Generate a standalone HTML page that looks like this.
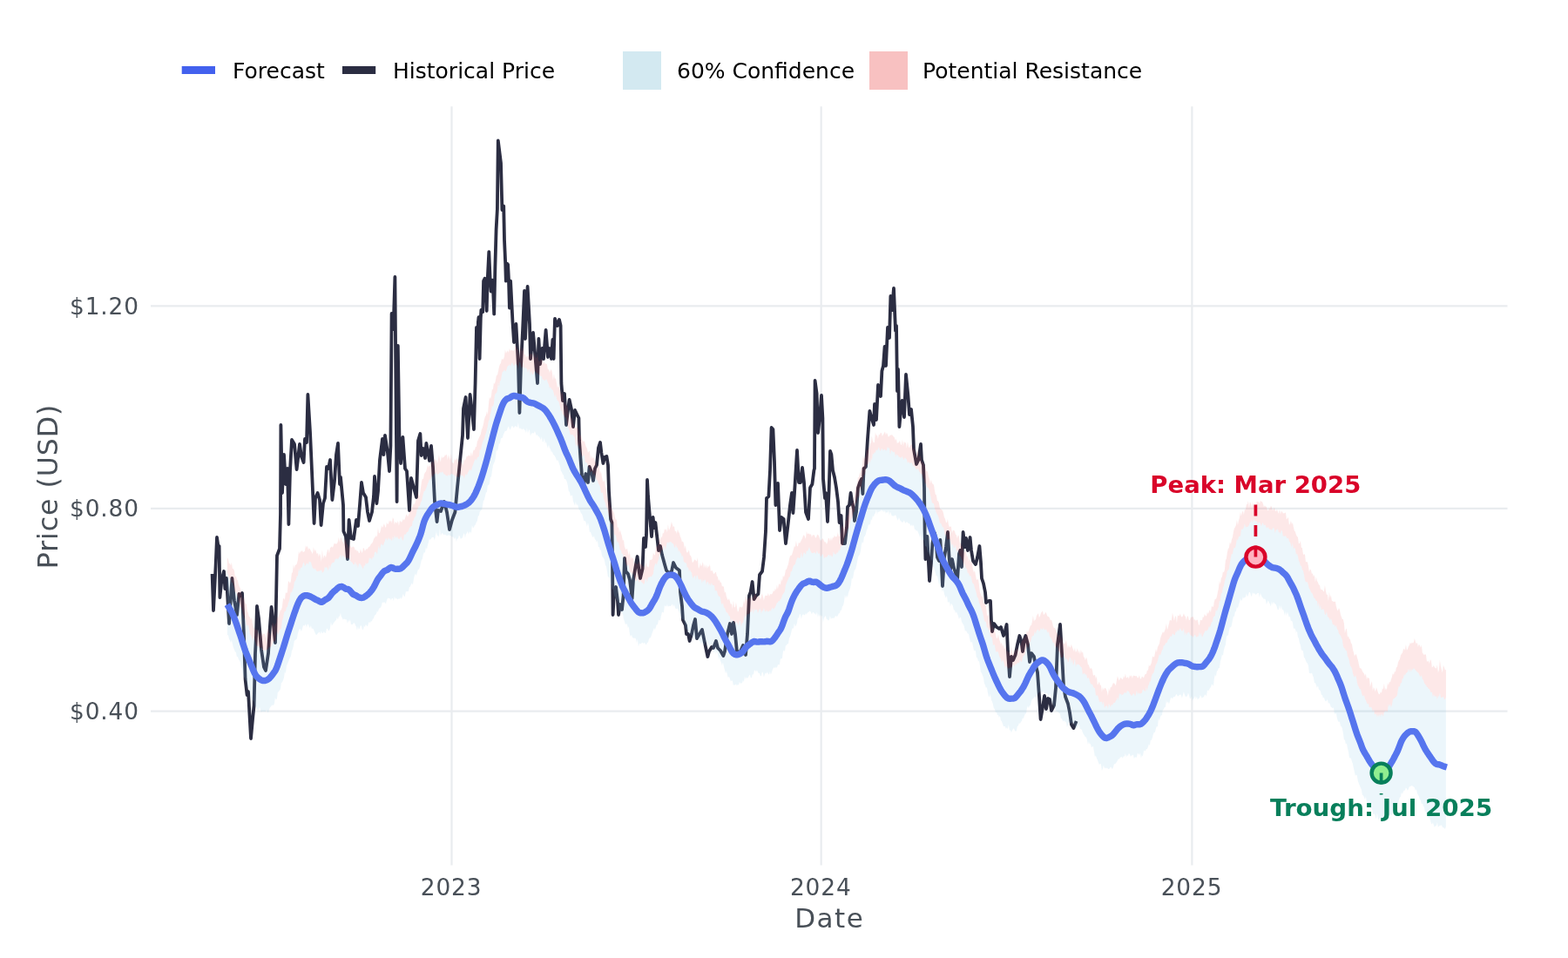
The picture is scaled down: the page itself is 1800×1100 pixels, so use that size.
<!DOCTYPE html>
<html><head><meta charset="utf-8"><title>Forecast</title>
<style>
html,body{margin:0;padding:0;background:#fff;}
body{width:1800px;height:1100px;overflow:hidden;font-family:"DejaVu Sans","Liberation Sans",sans-serif;}
svg{display:block}
text{font-family:"DejaVu Sans","Liberation Sans",sans-serif;}
.ax{font-size:26.4px;fill:#495058;}
.lg{font-size:25px;fill:#000;}
.tt{font-size:33px;fill:#495058;}
.grid{stroke:#e9ecef;stroke-width:2.2;fill:none}
</style></head><body>
<svg width="1800" height="1100" viewBox="0 0 1800 1100">
<rect width="1800" height="1100" fill="#ffffff"/>
<g class="grid">
<path d="M173,351.4H1730.5 M173,583.9H1730.5 M173,816.6H1730.5"/>
<path d="M518.5,122.3V993.6 M942.65,122.3V993.6 M1368.4,122.3V993.6"/>
</g>
<!-- historical -->
<path d="M243.6,659.0 L245.0,701.0 L247.6,650.0 L249.0,617.0 L250.6,628.0 L251.6,627.0 L252.4,686.0 L254.4,666.0 L257.0,656.0 L258.4,676.0 L260.0,664.0 L263.0,716.0 L265.0,686.0 L266.4,664.0 L269.0,690.0 L272.0,706.0 L274.4,682.0 L276.4,684.0 L278.0,681.0 L280.0,730.0 L281.6,780.0 L283.6,798.0 L285.0,794.0 L287.0,830.0 L288.0,848.0 L290.0,826.0 L291.6,810.0 L293.0,750.0 L294.0,730.0 L295.0,696.0 L297.0,710.0 L300.0,746.0 L303.0,766.0 L305.0,770.0 L308.0,750.0 L310.0,718.0 L311.6,697.0 L314.0,718.0 L316.0,738.0 L317.0,690.0 L318.0,638.0 L321.0,630.0 L322.0,590.0 L322.4,488.0 L324.0,566.0 L326.0,522.0 L328.0,556.0 L330.0,538.0 L331.4,602.0 L333.0,540.0 L335.0,505.0 L338.0,510.0 L340.6,539.0 L344.0,510.0 L346.0,524.0 L348.6,531.0 L350.0,504.0 L352.0,508.0 L353.4,453.0 L356.0,496.0 L358.0,540.0 L360.6,601.0 L362.0,572.0 L364.6,566.0 L367.0,574.0 L368.6,603.0 L371.0,578.0 L373.0,572.0 L375.0,536.0 L377.0,538.0 L379.0,528.0 L381.4,574.0 L384.0,552.0 L386.0,522.0 L388.0,509.0 L390.0,556.0 L391.0,548.0 L394.0,580.0 L394.4,610.0 L397.0,616.0 L399.0,642.0 L400.6,597.0 L403.0,618.0 L406.0,619.0 L409.0,597.0 L411.0,604.0 L413.0,580.0 L415.0,554.0 L417.0,566.0 L420.0,571.0 L422.0,588.0 L424.0,598.0 L427.0,588.0 L429.0,570.0 L430.0,547.0 L432.4,578.0 L434.0,564.0 L436.0,528.0 L439.0,504.0 L440.4,522.0 L442.0,500.0 L445.0,520.0 L447.0,541.0 L448.4,512.0 L449.6,360.0 L451.6,378.0 L453.4,318.0 L455.6,576.0 L456.8,397.0 L458.4,500.0 L460.0,532.0 L462.4,502.0 L465.0,538.0 L467.0,541.0 L470.0,586.0 L472.0,549.0 L475.0,560.0 L478.0,571.0 L480.0,506.0 L482.4,498.0 L483.6,523.0 L486.0,515.0 L488.0,526.0 L489.4,509.0 L493.0,529.0 L495.0,512.0 L497.0,536.0 L499.0,576.0 L501.6,599.0 L503.0,586.0 L506.0,587.0 L510.0,576.0 L513.0,588.0 L516.0,608.0 L519.0,597.0 L522.4,588.0 L525.0,560.0 L528.0,530.0 L531.0,500.0 L532.0,469.0 L534.6,456.0 L537.0,503.0 L539.6,453.0 L541.6,470.0 L544.0,493.0 L545.6,440.0 L547.0,376.0 L548.2,398.0 L548.9,370.0 L549.5,364.1 L550.6,412.0 L551.8,365.3 L552.4,355.8 L554.2,358.2 L555.1,322.7 L556.5,319.8 L557.7,329.8 L558.7,357.0 L559.5,325.1 L561.3,289.1 L562.7,321.6 L563.6,334.6 L565.1,321.6 L566.0,329.8 L567.2,360.6 L568.4,306.2 L569.6,263.6 L570.9,240.0 L571.8,161.5 L575.0,187.3 L576.4,241.0 L578.2,236.4 L579.0,275.5 L580.2,302.6 L580.8,322.7 L582.0,302.6 L583.1,303.8 L584.0,321.6 L584.9,353.5 L586.1,322.7 L587.3,346.4 L588.5,370.0 L590.0,393.0 L590.0,393.0 L592.4,372.0 L595.0,420.0 L596.4,474.0 L598.0,420.0 L600.0,380.0 L602.0,334.0 L603.0,389.0 L605.6,329.0 L608.0,372.0 L609.0,412.0 L612.0,382.0 L614.0,404.0 L617.0,440.0 L618.4,389.0 L620.0,418.0 L622.4,400.0 L624.0,412.0 L626.6,379.0 L629.0,410.0 L631.0,400.0 L633.0,412.0 L634.4,390.0 L635.6,412.0 L637.0,366.0 L640.0,374.0 L642.0,367.0 L643.6,374.0 L644.4,440.0 L646.0,460.0 L648.0,452.0 L650.0,488.0 L651.6,474.0 L653.6,459.0 L656.0,470.0 L658.0,490.0 L660.0,471.0 L662.4,476.0 L664.4,480.0 L665.0,506.0 L666.4,526.0 L668.0,546.0 L670.0,558.0 L672.4,544.0 L675.0,554.0 L676.6,536.0 L679.0,542.0 L681.0,552.0 L683.0,538.0 L685.0,534.0 L687.0,514.0 L689.0,508.0 L690.4,520.0 L692.4,532.0 L694.0,525.0 L696.4,524.0 L698.0,534.0 L699.0,564.0 L701.0,596.0 L702.4,600.0 L703.0,640.0 L703.6,706.0 L705.0,680.0 L707.0,674.0 L709.0,690.0 L710.0,706.0 L712.0,694.0 L714.0,700.0 L715.6,684.0 L717.0,641.0 L718.4,656.0 L721.0,659.0 L723.0,666.0 L725.6,687.0 L727.0,666.0 L729.0,654.0 L731.6,639.0 L733.6,656.0 L735.0,664.0 L737.6,653.0 L739.0,618.0 L741.0,628.0 L742.0,614.0 L743.0,551.0 L744.0,570.0 L746.0,594.0 L748.0,616.0 L749.6,594.0 L751.0,606.0 L752.4,600.0 L754.0,614.0 L756.0,632.0 L758.0,627.0 L760.0,637.0 L763.0,648.0 L765.0,655.0 L768.0,658.0 L771.0,656.0 L773.0,646.0 L776.0,652.0 L780.0,655.0 L781.0,680.0 L783.0,696.0 L784.0,712.0 L787.0,718.0 L788.0,728.0 L790.0,728.0 L791.6,736.0 L794.0,728.0 L796.0,718.0 L798.0,711.0 L800.0,733.0 L803.0,728.0 L806.0,723.0 L809.0,738.0 L812.4,754.0 L814.0,748.0 L817.0,743.0 L819.0,744.0 L822.0,736.0 L824.0,744.0 L827.0,747.0 L830.4,753.0 L832.0,748.0 L835.0,728.0 L838.0,716.0 L840.0,728.0 L842.0,715.0 L844.0,728.0 L846.0,749.0 L850.0,748.0 L853.0,741.0 L856.0,752.0 L858.0,728.0 L860.0,684.0 L861.6,680.0 L863.6,668.0 L865.6,688.0 L868.0,684.0 L870.4,682.0 L872.0,660.0 L875.0,656.0 L877.0,640.0 L879.0,610.0 L880.0,572.0 L882.4,570.0 L884.0,540.0 L885.6,491.0 L887.4,493.0 L889.0,530.0 L890.4,580.0 L893.0,555.0 L895.0,609.0 L897.0,594.0 L899.6,596.0 L902.0,624.0 L904.4,604.0 L907.0,580.0 L909.0,566.0 L910.4,589.0 L912.0,566.0 L915.0,517.0 L917.0,554.0 L919.0,554.0 L921.0,537.0 L923.0,554.0 L925.0,588.0 L928.0,596.0 L930.0,560.0 L932.4,556.0 L934.4,540.0 L935.0,538.0 L935.6,437.0 L937.6,452.0 L939.0,497.0 L941.0,480.0 L943.0,454.0 L944.4,480.0 L945.0,550.0 L947.0,572.0 L948.0,566.0 L950.0,599.0 L951.6,564.0 L953.0,518.0 L954.4,522.0 L956.0,540.0 L958.0,548.0 L960.0,560.0 L962.0,576.0 L963.6,600.0 L965.6,592.0 L967.0,624.0 L970.0,624.0 L972.0,606.0 L973.0,582.0 L975.0,580.0 L976.6,566.0 L978.0,576.0 L980.0,584.0 L981.0,598.0 L983.0,588.0 L985.0,560.0 L987.0,554.0 L989.0,550.0 L990.4,567.0 L991.6,538.0 L994.0,536.0 L996.0,504.0 L998.4,472.0 L1000.0,478.0 L1003.0,488.0 L1004.0,464.0 L1006.0,482.0 L1008.0,442.0 L1011.0,455.0 L1012.4,426.0 L1014.0,420.0 L1015.6,398.0 L1017.0,420.0 L1019.0,376.0 L1021.0,388.0 L1022.4,340.0 L1024.0,356.0 L1026.0,331.0 L1028.0,380.0 L1029.0,374.0 L1030.0,449.0 L1031.0,424.0 L1032.4,490.0 L1034.0,472.0 L1035.6,460.0 L1038.0,479.0 L1040.0,430.0 L1042.4,454.0 L1044.0,476.0 L1046.0,470.0 L1048.0,490.0 L1049.0,516.0 L1052.0,533.0 L1054.4,528.0 L1057.0,510.0 L1058.0,528.0 L1060.0,534.0 L1061.0,560.0 L1061.6,610.0 L1062.4,642.0 L1064.4,616.0 L1067.0,667.0 L1069.0,646.0 L1070.4,624.0 L1073.0,612.0 L1074.4,620.0 L1076.0,640.0 L1078.0,644.0 L1079.4,620.0 L1082.0,673.0 L1084.0,640.0 L1086.0,628.0 L1088.0,611.0 L1089.6,640.0 L1091.0,654.0 L1093.0,642.0 L1095.0,652.0 L1097.0,658.0 L1099.0,666.0 L1101.0,636.0 L1102.4,632.0 L1104.0,651.0 L1105.6,611.0 L1107.6,628.0 L1109.0,618.0 L1111.0,632.0 L1113.6,617.0 L1115.0,632.0 L1117.0,644.0 L1120.0,648.0 L1122.0,640.0 L1124.4,627.0 L1126.0,646.0 L1127.0,664.0 L1129.0,670.0 L1131.0,680.0 L1132.0,692.0 L1135.0,690.0 L1137.0,690.0 L1138.0,714.0 L1139.0,725.0 L1141.0,716.0 L1144.0,720.0 L1147.0,722.0 L1149.0,720.0 L1152.0,730.0 L1154.0,724.0 L1155.6,717.0 L1157.0,748.0 L1159.0,777.0 L1161.0,754.0 L1163.0,758.0 L1165.6,752.0 L1168.0,740.0 L1170.4,730.0 L1172.4,736.0 L1174.0,748.0 L1176.0,734.0 L1177.4,730.0 L1180.0,740.0 L1182.0,760.0 L1184.0,750.0 L1187.0,754.0 L1189.0,764.0 L1191.0,772.0 L1193.0,800.0 L1194.6,826.0 L1197.0,812.0 L1199.0,799.0 L1201.0,814.0 L1203.0,802.0 L1205.0,803.0 L1207.0,816.0 L1210.0,810.0 L1212.0,790.0 L1214.0,740.0 L1217.0,717.0 L1219.0,750.0 L1221.0,788.0 L1223.0,800.0 L1226.0,808.0 L1228.0,818.0 L1230.0,832.0 L1232.4,836.0 L1235.6,828.0" fill="none" stroke="#2b2d42" stroke-width="3.8" stroke-linejoin="round" stroke-linecap="butt"/>
<!-- ribbons -->
<path d="M260.9,640.0 L261.9,642.0 L262.9,647.2 L263.9,646.8 L264.9,649.6 L265.9,645.7 L266.9,653.1 L267.9,652.9 L268.9,655.2 L269.9,662.6 L270.9,661.3 L271.9,665.6 L272.9,666.5 L273.9,671.3 L274.9,673.7 L275.9,675.7 L276.9,680.8 L277.9,684.7 L278.9,689.4 L279.9,685.3 L280.9,690.6 L281.9,693.3 L282.9,693.7 L283.9,701.7 L284.9,703.8 L285.9,708.0 L286.9,708.6 L287.9,712.0 L288.9,708.7 L289.9,716.3 L290.9,719.2 L291.9,721.7 L292.9,722.2 L293.9,724.0 L294.9,721.9 L295.9,724.8 L296.9,729.3 L297.9,725.9 L298.9,730.5 L299.9,724.0 L300.9,730.5 L301.9,728.2 L302.9,727.4 L303.9,727.9 L304.9,733.0 L305.9,726.6 L306.9,726.4 L307.9,720.1 L308.9,727.1 L309.9,726.9 L310.9,730.5 L311.9,722.6 L312.9,714.4 L313.9,716.8 L314.9,720.3 L315.9,715.2 L316.9,716.9 L317.9,708.1 L318.9,709.9 L319.9,707.3 L320.9,703.8 L321.9,700.4 L322.9,700.6 L323.9,697.1 L324.9,688.2 L325.9,686.6 L326.9,689.1 L327.9,680.1 L328.9,681.2 L329.9,679.9 L330.9,667.4 L331.9,667.8 L332.9,670.1 L333.9,667.0 L334.9,658.1 L335.9,657.3 L336.9,648.1 L337.9,653.3 L338.9,648.3 L339.9,649.1 L340.9,646.9 L341.9,642.8 L342.9,633.1 L343.9,636.2 L344.9,633.0 L345.9,633.4 L346.9,631.7 L347.9,634.3 L348.9,633.6 L349.9,632.7 L350.9,626.3 L351.9,628.9 L352.9,626.4 L353.9,631.6 L354.9,629.2 L355.9,630.5 L356.9,632.4 L357.9,634.1 L358.9,636.2 L359.9,628.1 L360.9,633.6 L361.9,630.6 L362.9,633.5 L363.9,636.3 L364.9,634.7 L365.9,639.6 L366.9,635.2 L367.9,638.2 L368.9,644.9 L369.9,631.1 L370.9,641.9 L371.9,638.4 L372.9,637.4 L373.9,640.6 L374.9,635.9 L375.9,631.9 L376.9,630.5 L377.9,635.2 L378.9,629.3 L379.9,628.5 L380.9,627.3 L381.9,628.9 L382.9,625.9 L383.9,623.5 L384.9,624.5 L385.9,624.4 L386.9,624.2 L387.9,621.8 L388.9,616.8 L389.9,623.1 L390.9,618.0 L391.9,616.9 L392.9,621.7 L393.9,622.4 L394.9,625.0 L395.9,618.2 L396.9,620.7 L397.9,624.4 L398.9,625.8 L399.9,630.0 L400.9,626.7 L401.9,625.7 L402.9,628.3 L403.9,628.7 L404.9,627.7 L405.9,627.6 L406.9,628.9 L407.9,632.2 L408.9,630.8 L409.9,633.3 L410.9,632.0 L411.9,635.3 L412.9,634.8 L413.9,630.5 L414.9,633.3 L415.9,634.9 L416.9,629.3 L417.9,629.5 L418.9,633.1 L419.9,631.1 L420.9,630.3 L421.9,630.6 L422.9,628.3 L423.9,627.8 L424.9,627.0 L425.9,624.6 L426.9,624.0 L427.9,622.5 L428.9,619.3 L429.9,617.6 L430.9,616.4 L431.9,614.8 L432.9,616.8 L433.9,605.9 L434.9,612.0 L435.9,612.2 L436.9,608.9 L437.9,603.5 L438.9,605.8 L439.9,604.2 L440.9,601.1 L441.9,604.2 L442.9,605.9 L443.9,599.7 L444.9,601.9 L445.9,601.4 L446.9,597.3 L447.9,599.5 L448.9,597.2 L449.9,600.7 L450.9,594.3 L451.9,596.1 L452.9,602.6 L453.9,599.1 L454.9,600.1 L455.9,600.9 L456.9,597.7 L457.9,604.0 L458.9,598.4 L459.9,598.3 L460.9,600.1 L461.9,598.0 L462.9,595.8 L463.9,597.4 L464.9,595.5 L465.9,592.0 L466.9,590.4 L467.9,593.4 L468.9,591.5 L469.9,588.4 L470.9,586.3 L471.9,586.1 L472.9,582.7 L473.9,581.0 L474.9,577.9 L475.9,579.6 L476.9,575.7 L477.9,572.6 L478.9,573.4 L479.9,563.8 L480.9,569.4 L481.9,568.4 L482.9,561.3 L483.9,553.6 L484.9,549.4 L485.9,550.3 L486.9,545.0 L487.9,542.6 L488.9,541.6 L489.9,538.4 L490.9,533.6 L491.9,536.7 L492.9,534.2 L493.9,534.9 L494.9,532.5 L495.9,530.0 L496.9,529.7 L497.9,532.4 L498.9,525.6 L499.9,529.3 L500.9,527.7 L501.9,532.6 L502.9,527.9 L503.9,522.0 L504.9,527.2 L505.9,530.5 L506.9,523.5 L507.9,526.5 L508.9,524.5 L509.9,524.7 L510.9,522.2 L511.9,522.9 L512.9,521.6 L513.9,528.2 L514.9,522.1 L515.9,525.6 L516.9,528.3 L517.9,521.3 L518.9,530.6 L519.9,531.6 L520.9,532.2 L521.9,526.4 L522.9,528.8 L523.9,527.0 L524.9,526.2 L525.9,528.2 L526.9,530.9 L527.9,527.4 L528.9,528.9 L529.9,532.7 L530.9,531.5 L531.9,534.5 L532.9,527.5 L533.9,528.8 L534.9,526.8 L535.9,523.2 L536.9,524.4 L537.9,522.4 L538.9,523.1 L539.9,524.0 L540.9,518.7 L541.9,524.3 L542.9,519.1 L543.9,516.0 L544.9,517.3 L545.9,512.7 L546.9,513.4 L547.9,506.7 L548.9,505.1 L549.9,502.4 L550.9,500.6 L551.9,498.6 L552.9,493.2 L553.9,491.3 L554.9,487.3 L555.9,481.5 L556.9,478.6 L557.9,476.8 L558.9,472.2 L559.9,476.2 L560.9,464.6 L561.9,455.8 L562.9,458.3 L563.9,455.0 L564.9,446.5 L565.9,447.4 L566.9,439.5 L567.9,441.1 L568.9,436.7 L569.9,431.1 L570.9,430.8 L571.9,426.7 L572.9,421.5 L573.9,418.2 L574.9,417.3 L575.9,412.3 L576.9,412.6 L577.9,412.5 L578.9,409.7 L579.9,401.5 L580.9,405.8 L581.9,403.7 L582.9,402.4 L583.9,404.9 L584.9,400.1 L585.9,402.7 L586.9,402.2 L587.9,401.8 L588.9,403.1 L589.9,402.6 L590.9,400.3 L591.9,396.6 L592.9,398.7 L593.9,401.0 L594.9,401.2 L595.9,408.9 L596.9,403.7 L597.9,396.9 L598.9,403.2 L599.9,402.4 L600.9,398.3 L601.9,406.7 L602.9,406.9 L603.9,411.0 L604.9,408.6 L605.9,409.1 L606.9,409.7 L607.9,405.3 L608.9,406.5 L609.9,406.7 L610.9,406.2 L611.9,410.0 L612.9,410.6 L613.9,404.4 L614.9,410.5 L615.9,411.3 L616.9,405.9 L617.9,413.4 L618.9,415.0 L619.9,414.7 L620.9,412.3 L621.9,412.4 L622.9,415.3 L623.9,418.1 L624.9,415.2 L625.9,418.2 L626.9,417.3 L627.9,418.6 L628.9,424.6 L629.9,424.0 L630.9,427.7 L631.9,425.5 L632.9,424.0 L633.9,428.0 L634.9,436.4 L635.9,429.1 L636.9,434.9 L637.9,434.2 L638.9,439.3 L639.9,445.2 L640.9,443.3 L641.9,445.3 L642.9,448.2 L643.9,450.6 L644.9,453.3 L645.9,449.7 L646.9,460.1 L647.9,466.7 L648.9,459.9 L649.9,467.0 L650.9,464.6 L651.9,469.9 L652.9,478.2 L653.9,476.0 L654.9,477.0 L655.9,480.2 L656.9,480.8 L657.9,485.7 L658.9,488.6 L659.9,490.2 L660.9,491.2 L661.9,491.9 L662.9,489.9 L663.9,493.2 L664.9,496.6 L665.9,500.9 L666.9,499.5 L667.9,504.1 L668.9,506.6 L669.9,507.0 L670.9,506.2 L671.9,510.2 L672.9,513.3 L673.9,514.7 L674.9,519.7 L675.9,518.8 L676.9,517.5 L677.9,528.2 L678.9,522.6 L679.9,527.3 L680.9,524.9 L681.9,526.1 L682.9,530.3 L683.9,530.7 L684.9,535.3 L685.9,538.5 L686.9,532.7 L687.9,535.5 L688.9,544.6 L689.9,540.7 L690.9,547.5 L691.9,551.8 L692.9,553.4 L693.9,550.9 L694.9,559.0 L695.9,562.2 L696.9,570.0 L697.9,573.3 L698.9,577.3 L699.9,573.3 L700.9,580.8 L701.9,583.2 L702.9,585.0 L703.9,587.1 L704.9,588.9 L705.9,594.0 L706.9,596.9 L707.9,596.2 L708.9,606.6 L709.9,604.8 L710.9,611.8 L711.9,608.2 L712.9,612.2 L713.9,615.4 L714.9,621.2 L715.9,619.4 L716.9,627.3 L717.9,630.2 L718.9,631.3 L719.9,629.6 L720.9,634.1 L721.9,637.9 L722.9,632.8 L723.9,643.2 L724.9,639.1 L725.9,641.2 L726.9,641.0 L727.9,647.7 L728.9,645.5 L729.9,646.8 L730.9,647.9 L731.9,648.1 L732.9,646.0 L733.9,644.6 L734.9,648.2 L735.9,647.8 L736.9,648.8 L737.9,651.0 L738.9,649.7 L739.9,652.5 L740.9,647.8 L741.9,646.2 L742.9,651.3 L743.9,650.3 L744.9,651.8 L745.9,642.5 L746.9,643.2 L747.9,642.4 L748.9,642.1 L749.9,634.7 L750.9,636.8 L751.9,637.4 L752.9,626.7 L753.9,628.8 L754.9,626.3 L755.9,625.2 L756.9,617.4 L757.9,620.3 L758.9,615.4 L759.9,617.7 L760.9,611.5 L761.9,612.8 L762.9,607.0 L763.9,608.9 L764.9,607.3 L765.9,611.5 L766.9,602.1 L767.9,608.9 L768.9,607.0 L769.9,603.7 L770.9,599.1 L771.9,602.6 L772.9,605.6 L773.9,603.8 L774.9,610.3 L775.9,609.4 L776.9,613.1 L777.9,607.7 L778.9,610.7 L779.9,612.1 L780.9,616.0 L781.9,618.2 L782.9,622.3 L783.9,621.5 L784.9,623.8 L785.9,630.3 L786.9,626.0 L787.9,632.9 L788.9,634.8 L789.9,633.7 L790.9,631.4 L791.9,637.6 L792.9,638.1 L793.9,640.7 L794.9,646.3 L795.9,645.2 L796.9,643.0 L797.9,642.5 L798.9,643.7 L799.9,644.4 L800.9,640.2 L801.9,653.3 L802.9,650.8 L803.9,646.6 L804.9,650.6 L805.9,648.4 L806.9,645.0 L807.9,652.6 L808.9,647.4 L809.9,652.7 L810.9,648.2 L811.9,653.3 L812.9,649.6 L813.9,651.2 L814.9,647.7 L815.9,656.2 L816.9,655.0 L817.9,655.3 L818.9,658.6 L819.9,659.0 L820.9,657.3 L821.9,656.8 L822.9,661.6 L823.9,662.3 L824.9,667.3 L825.9,664.9 L826.9,669.1 L827.9,668.4 L828.9,673.5 L829.9,672.7 L830.9,674.0 L831.9,681.0 L832.9,679.2 L833.9,685.1 L834.9,687.7 L835.9,689.3 L836.9,686.9 L837.9,690.6 L838.9,694.2 L839.9,692.8 L840.9,699.0 L841.9,689.8 L842.9,697.1 L843.9,697.6 L844.9,691.5 L845.9,697.3 L846.9,702.7 L847.9,701.2 L848.9,696.3 L849.9,697.6 L850.9,696.6 L851.9,698.0 L852.9,695.0 L853.9,689.4 L854.9,693.5 L855.9,684.7 L856.9,686.0 L857.9,690.0 L858.9,686.0 L859.9,688.1 L860.9,685.5 L861.9,686.4 L862.9,687.9 L863.9,685.8 L864.9,685.1 L865.9,683.4 L866.9,681.5 L867.9,683.3 L868.9,685.8 L869.9,685.4 L870.9,684.1 L871.9,685.5 L872.9,688.5 L873.9,685.1 L874.9,681.3 L875.9,685.3 L876.9,689.6 L877.9,685.1 L878.9,683.6 L879.9,683.9 L880.9,684.0 L881.9,680.9 L882.9,685.0 L883.9,682.4 L884.9,682.1 L885.9,682.5 L886.9,680.9 L887.9,677.7 L888.9,679.6 L889.9,675.6 L890.9,677.9 L891.9,671.4 L892.9,676.8 L893.9,671.2 L894.9,670.0 L895.9,671.7 L896.9,664.2 L897.9,667.7 L898.9,660.7 L899.9,662.8 L900.9,660.1 L901.9,654.3 L902.9,653.7 L903.9,650.5 L904.9,647.9 L905.9,642.5 L906.9,638.7 L907.9,637.7 L908.9,637.6 L909.9,634.1 L910.9,630.7 L911.9,627.1 L912.9,628.1 L913.9,621.1 L914.9,626.7 L915.9,627.4 L916.9,622.5 L917.9,624.1 L918.9,622.2 L919.9,620.3 L920.9,618.4 L921.9,615.7 L922.9,614.0 L923.9,616.3 L924.9,619.0 L925.9,610.1 L926.9,613.4 L927.9,612.6 L928.9,612.8 L929.9,613.9 L930.9,613.0 L931.9,616.8 L932.9,614.2 L933.9,614.5 L934.9,614.3 L935.9,617.2 L936.9,617.6 L937.9,614.5 L938.9,613.4 L939.9,615.3 L940.9,618.3 L941.9,620.7 L942.9,620.2 L943.9,618.4 L944.9,618.6 L945.9,621.0 L946.9,622.8 L947.9,622.3 L948.9,625.0 L949.9,623.0 L950.9,617.4 L951.9,618.4 L952.9,621.4 L953.9,617.1 L954.9,621.0 L955.9,617.1 L956.9,617.8 L957.9,614.6 L958.9,616.4 L959.9,616.2 L960.9,615.7 L961.9,611.3 L962.9,615.8 L963.9,616.0 L964.9,613.6 L965.9,605.5 L966.9,602.5 L967.9,605.5 L968.9,607.1 L969.9,598.6 L970.9,597.3 L971.9,598.4 L972.9,591.6 L973.9,591.6 L974.9,582.4 L975.9,583.5 L976.9,583.4 L977.9,576.8 L978.9,579.0 L979.9,570.6 L980.9,570.5 L981.9,561.7 L982.9,556.8 L983.9,557.8 L984.9,547.7 L985.9,548.6 L986.9,544.1 L987.9,542.0 L988.9,537.6 L989.9,535.1 L990.9,523.1 L991.9,527.5 L992.9,525.7 L993.9,523.6 L994.9,516.3 L995.9,517.4 L996.9,514.2 L997.9,514.2 L998.9,508.2 L999.9,509.2 L1000.9,501.0 L1001.9,506.5 L1002.9,508.4 L1003.9,507.7 L1004.9,496.2 L1005.9,500.6 L1006.9,499.3 L1007.9,504.0 L1008.9,498.6 L1009.9,499.5 L1010.9,496.8 L1011.9,497.2 L1012.9,501.1 L1013.9,499.1 L1014.9,497.5 L1015.9,495.5 L1016.9,499.4 L1017.9,496.8 L1018.9,498.8 L1019.9,502.0 L1020.9,500.8 L1021.9,499.6 L1022.9,499.8 L1023.9,498.9 L1024.9,500.3 L1025.9,501.4 L1026.9,502.5 L1027.9,506.3 L1028.9,503.5 L1029.9,509.5 L1030.9,508.1 L1031.9,508.3 L1032.9,505.8 L1033.9,509.9 L1034.9,511.2 L1035.9,504.4 L1036.9,512.2 L1037.9,506.8 L1038.9,508.8 L1039.9,508.0 L1040.9,514.8 L1041.9,506.9 L1042.9,512.4 L1043.9,514.5 L1044.9,511.7 L1045.9,510.6 L1046.9,510.6 L1047.9,515.1 L1048.9,515.8 L1049.9,514.1 L1050.9,521.5 L1051.9,524.8 L1052.9,519.5 L1053.9,516.9 L1054.9,525.8 L1055.9,523.0 L1056.9,524.3 L1057.9,529.3 L1058.9,530.9 L1059.9,530.8 L1060.9,533.3 L1061.9,534.9 L1062.9,540.1 L1063.9,541.1 L1064.9,541.6 L1065.9,547.1 L1066.9,550.0 L1067.9,555.6 L1068.9,550.7 L1069.9,554.4 L1070.9,556.1 L1071.9,556.4 L1072.9,562.9 L1073.9,567.7 L1074.9,568.4 L1075.9,575.0 L1076.9,575.3 L1077.9,577.4 L1078.9,583.6 L1079.9,584.8 L1080.9,585.1 L1081.9,586.0 L1082.9,589.0 L1083.9,593.7 L1084.9,595.5 L1085.9,599.6 L1086.9,600.2 L1087.9,595.9 L1088.9,602.3 L1089.9,605.3 L1090.9,604.5 L1091.9,604.4 L1092.9,612.5 L1093.9,608.8 L1094.9,609.0 L1095.9,609.8 L1096.9,613.2 L1097.9,614.6 L1098.9,618.2 L1099.9,614.3 L1100.9,616.1 L1101.9,623.0 L1102.9,623.9 L1103.9,627.3 L1104.9,627.0 L1105.9,631.3 L1106.9,635.5 L1107.9,632.1 L1108.9,633.4 L1109.9,640.2 L1110.9,637.5 L1111.9,645.1 L1112.9,641.3 L1113.9,646.4 L1114.9,643.7 L1115.9,647.7 L1116.9,653.8 L1117.9,657.4 L1118.9,655.0 L1119.9,660.2 L1120.9,665.4 L1121.9,665.7 L1122.9,664.6 L1123.9,671.3 L1124.9,679.9 L1125.9,682.0 L1126.9,685.6 L1127.9,684.3 L1128.9,689.2 L1129.9,692.6 L1130.9,694.6 L1131.9,696.0 L1132.9,705.7 L1133.9,707.8 L1134.9,704.7 L1135.9,711.2 L1136.9,711.9 L1137.9,713.9 L1138.9,721.6 L1139.9,717.8 L1140.9,723.7 L1141.9,724.6 L1142.9,727.7 L1143.9,732.4 L1144.9,732.9 L1145.9,728.2 L1146.9,733.6 L1147.9,736.2 L1148.9,739.9 L1149.9,737.2 L1150.9,742.5 L1151.9,739.9 L1152.9,744.9 L1153.9,744.4 L1154.9,742.5 L1155.9,748.3 L1156.9,747.3 L1157.9,750.1 L1158.9,747.6 L1159.9,751.9 L1160.9,742.6 L1161.9,749.0 L1162.9,751.9 L1163.9,745.7 L1164.9,749.5 L1165.9,745.9 L1166.9,746.3 L1167.9,743.7 L1168.9,746.6 L1169.9,750.0 L1170.9,741.6 L1171.9,741.0 L1172.9,735.4 L1173.9,735.5 L1174.9,733.9 L1175.9,729.5 L1176.9,733.8 L1177.9,729.4 L1178.9,723.7 L1179.9,726.7 L1180.9,724.1 L1181.9,721.1 L1182.9,718.2 L1183.9,717.9 L1184.9,714.1 L1185.9,706.8 L1186.9,713.8 L1187.9,711.6 L1188.9,711.7 L1189.9,707.2 L1190.9,705.4 L1191.9,704.0 L1192.9,708.9 L1193.9,707.5 L1194.9,704.1 L1195.9,702.8 L1196.9,701.3 L1197.9,705.7 L1198.9,705.4 L1199.9,703.4 L1200.9,703.2 L1201.9,706.4 L1202.9,707.9 L1203.9,707.9 L1204.9,709.6 L1205.9,712.4 L1206.9,711.4 L1207.9,714.6 L1208.9,719.0 L1209.9,721.1 L1210.9,721.0 L1211.9,723.2 L1212.9,725.3 L1213.9,727.9 L1214.9,732.0 L1215.9,728.6 L1216.9,729.3 L1217.9,735.7 L1218.9,730.0 L1219.9,736.6 L1220.9,739.7 L1221.9,739.1 L1222.9,738.2 L1223.9,735.0 L1224.9,740.1 L1225.9,744.4 L1226.9,740.6 L1227.9,743.2 L1228.9,743.3 L1229.9,739.8 L1230.9,743.1 L1231.9,745.6 L1232.9,748.1 L1233.9,743.6 L1234.9,749.3 L1235.9,747.5 L1236.9,744.2 L1237.9,750.2 L1238.9,746.7 L1239.9,751.5 L1240.9,746.1 L1241.9,749.7 L1242.9,748.3 L1243.9,753.9 L1244.9,755.0 L1245.9,758.2 L1246.9,754.6 L1247.9,757.0 L1248.9,763.1 L1249.9,763.6 L1250.9,767.0 L1251.9,767.9 L1252.9,766.8 L1253.9,769.4 L1254.9,775.2 L1255.9,775.8 L1256.9,774.6 L1257.9,779.5 L1258.9,776.2 L1259.9,786.4 L1260.9,785.1 L1261.9,782.5 L1262.9,786.9 L1263.9,786.4 L1264.9,794.5 L1265.9,788.8 L1266.9,792.5 L1267.9,790.3 L1268.9,789.8 L1269.9,791.5 L1270.9,794.1 L1271.9,799.0 L1272.9,790.0 L1273.9,793.8 L1274.9,788.6 L1275.9,789.2 L1276.9,786.6 L1277.9,784.3 L1278.9,784.4 L1279.9,785.6 L1280.9,787.5 L1281.9,781.3 L1282.9,776.1 L1283.9,779.5 L1284.9,781.5 L1285.9,778.4 L1286.9,778.3 L1287.9,779.6 L1288.9,780.3 L1289.9,776.2 L1290.9,778.5 L1291.9,773.8 L1292.9,778.5 L1293.9,778.1 L1294.9,777.1 L1295.9,779.7 L1296.9,775.2 L1297.9,777.1 L1298.9,775.3 L1299.9,779.0 L1300.9,775.4 L1301.9,776.1 L1302.9,776.0 L1303.9,776.6 L1304.9,776.1 L1305.9,778.4 L1306.9,777.9 L1307.9,775.2 L1308.9,779.2 L1309.9,779.5 L1310.9,776.8 L1311.9,777.2 L1312.9,778.7 L1313.9,775.6 L1314.9,773.7 L1315.9,774.0 L1316.9,769.5 L1317.9,770.0 L1318.9,763.6 L1319.9,765.1 L1320.9,763.6 L1321.9,760.8 L1322.9,754.6 L1323.9,753.6 L1324.9,755.1 L1325.9,750.3 L1326.9,744.9 L1327.9,749.0 L1328.9,743.0 L1329.9,740.9 L1330.9,739.2 L1331.9,733.4 L1332.9,730.2 L1333.9,727.7 L1334.9,725.3 L1335.9,726.8 L1336.9,724.6 L1337.9,721.9 L1338.9,716.1 L1339.9,723.4 L1340.9,720.1 L1341.9,716.3 L1342.9,711.9 L1343.9,712.2 L1344.9,712.6 L1345.9,704.0 L1346.9,707.4 L1347.9,712.7 L1348.9,708.4 L1349.9,707.1 L1350.9,715.5 L1351.9,706.3 L1352.9,707.3 L1353.9,706.7 L1354.9,704.5 L1355.9,708.0 L1356.9,708.4 L1357.9,707.2 L1358.9,704.2 L1359.9,707.1 L1360.9,708.1 L1361.9,712.4 L1362.9,707.5 L1363.9,707.5 L1364.9,712.3 L1365.9,711.8 L1366.9,708.5 L1367.9,709.0 L1368.9,708.1 L1369.9,708.6 L1370.9,711.9 L1371.9,711.3 L1372.9,713.1 L1373.9,711.5 L1374.9,712.1 L1375.9,717.0 L1376.9,717.9 L1377.9,711.9 L1378.9,711.8 L1379.9,712.5 L1380.9,708.1 L1381.9,708.9 L1382.9,705.0 L1383.9,706.9 L1384.9,707.4 L1385.9,702.7 L1386.9,705.1 L1387.9,702.3 L1388.9,699.9 L1389.9,703.3 L1390.9,696.2 L1391.9,696.5 L1392.9,697.1 L1393.9,690.4 L1394.9,687.4 L1395.9,688.1 L1396.9,685.2 L1397.9,679.9 L1398.9,675.5 L1399.9,666.8 L1400.9,671.0 L1401.9,663.5 L1402.9,662.5 L1403.9,656.2 L1404.9,657.4 L1405.9,653.9 L1406.9,643.2 L1407.9,641.5 L1408.9,633.9 L1409.9,629.9 L1410.9,629.0 L1411.9,622.2 L1412.9,625.1 L1413.9,619.4 L1414.9,617.0 L1415.9,611.0 L1416.9,606.7 L1417.9,605.2 L1418.9,603.0 L1419.9,597.1 L1420.9,603.1 L1421.9,597.9 L1422.9,594.6 L1423.9,588.1 L1424.9,592.8 L1425.9,588.1 L1426.9,586.7 L1427.9,591.2 L1428.9,584.5 L1429.9,585.5 L1430.9,578.4 L1431.9,579.5 L1432.9,575.1 L1433.9,583.5 L1434.9,576.2 L1435.9,577.9 L1436.9,583.7 L1437.9,575.7 L1438.9,581.7 L1439.9,577.6 L1440.9,583.5 L1441.9,580.9 L1442.9,574.9 L1443.9,576.8 L1444.9,576.1 L1445.9,578.5 L1446.9,574.5 L1447.9,575.9 L1448.9,575.9 L1449.9,578.3 L1450.9,582.3 L1451.9,580.2 L1452.9,581.7 L1453.9,581.7 L1454.9,585.3 L1455.9,586.7 L1456.9,582.6 L1457.9,584.5 L1458.9,580.6 L1459.9,582.2 L1460.9,586.0 L1461.9,584.7 L1462.9,582.6 L1463.9,586.3 L1464.9,587.2 L1465.9,584.5 L1466.9,587.7 L1467.9,589.7 L1468.9,584.7 L1469.9,590.6 L1470.9,587.0 L1471.9,587.6 L1472.9,589.4 L1473.9,589.2 L1474.9,589.2 L1475.9,588.3 L1476.9,596.6 L1477.9,595.2 L1478.9,593.7 L1479.9,602.8 L1480.9,601.5 L1481.9,597.8 L1482.9,602.3 L1483.9,600.1 L1484.9,605.4 L1485.9,609.5 L1486.9,610.5 L1487.9,614.1 L1488.9,616.1 L1489.9,616.7 L1490.9,623.7 L1491.9,624.2 L1492.9,620.8 L1493.9,629.0 L1494.9,628.9 L1495.9,636.1 L1496.9,637.2 L1497.9,635.8 L1498.9,644.9 L1499.9,645.2 L1500.9,645.3 L1501.9,649.7 L1502.9,656.8 L1503.9,653.5 L1504.9,654.5 L1505.9,658.8 L1506.9,658.4 L1507.9,662.2 L1508.9,659.9 L1509.9,668.2 L1510.9,662.3 L1511.9,666.9 L1512.9,668.5 L1513.9,671.5 L1514.9,671.7 L1515.9,676.2 L1516.9,677.3 L1517.9,676.9 L1518.9,678.6 L1519.9,679.5 L1520.9,672.1 L1521.9,678.6 L1522.9,683.1 L1523.9,682.2 L1524.9,690.2 L1525.9,679.6 L1526.9,686.4 L1527.9,683.2 L1528.9,689.8 L1529.9,690.5 L1530.9,690.8 L1531.9,690.9 L1532.9,690.6 L1533.9,696.3 L1534.9,699.7 L1535.9,701.5 L1536.9,697.9 L1537.9,700.2 L1538.9,705.4 L1539.9,708.5 L1540.9,711.1 L1541.9,710.9 L1542.9,715.8 L1543.9,726.9 L1544.9,723.1 L1545.9,721.5 L1546.9,732.0 L1547.9,730.3 L1548.9,733.5 L1549.9,733.9 L1550.9,738.5 L1551.9,739.6 L1552.9,745.4 L1553.9,748.9 L1554.9,753.4 L1555.9,751.8 L1556.9,750.9 L1557.9,754.7 L1558.9,757.9 L1559.9,762.7 L1560.9,767.1 L1561.9,767.3 L1562.9,767.9 L1563.9,770.5 L1564.9,772.2 L1565.9,773.5 L1566.9,776.3 L1567.9,773.2 L1568.9,780.3 L1569.9,777.3 L1570.9,779.0 L1571.9,778.6 L1572.9,788.7 L1573.9,785.0 L1574.9,781.9 L1575.9,793.4 L1576.9,788.7 L1577.9,791.5 L1578.9,794.2 L1579.9,789.3 L1580.9,791.8 L1581.9,795.1 L1582.9,797.3 L1583.9,797.1 L1584.9,794.1 L1585.9,796.0 L1586.9,790.3 L1587.9,791.4 L1588.9,784.7 L1589.9,792.7 L1590.9,789.8 L1591.9,792.6 L1592.9,784.1 L1593.9,786.9 L1594.9,782.9 L1595.9,783.4 L1596.9,780.3 L1597.9,777.2 L1598.9,772.9 L1599.9,774.9 L1600.9,770.9 L1601.9,771.5 L1602.9,766.5 L1603.9,765.8 L1604.9,761.1 L1605.9,758.3 L1606.9,757.1 L1607.9,752.5 L1608.9,750.8 L1609.9,749.8 L1610.9,745.9 L1611.9,744.6 L1612.9,746.9 L1613.9,740.1 L1614.9,746.6 L1615.9,745.2 L1616.9,742.2 L1617.9,740.8 L1618.9,737.6 L1619.9,739.6 L1620.9,737.5 L1621.9,738.5 L1622.9,737.6 L1623.9,733.1 L1624.9,736.7 L1625.9,739.5 L1626.9,737.7 L1627.9,743.0 L1628.9,739.4 L1629.9,741.2 L1630.9,743.7 L1631.9,740.5 L1632.9,750.0 L1633.9,750.4 L1634.9,752.4 L1635.9,751.0 L1636.9,751.7 L1637.9,759.1 L1638.9,759.8 L1639.9,758.5 L1640.9,762.3 L1641.9,757.3 L1642.9,758.7 L1643.9,766.6 L1644.9,765.5 L1645.9,763.9 L1646.9,766.5 L1647.9,766.8 L1648.9,767.8 L1649.9,763.2 L1650.9,772.5 L1651.9,769.1 L1652.9,758.0 L1653.9,764.8 L1654.9,768.9 L1655.9,772.6 L1656.9,763.8 L1657.9,766.3 L1658.9,769.4 L1659.9,768.7 L1659.9,800.8 L1658.9,802.7 L1657.9,803.2 L1656.9,799.8 L1655.9,800.6 L1654.9,801.2 L1653.9,800.8 L1652.9,795.5 L1651.9,800.7 L1650.9,797.9 L1649.9,803.4 L1648.9,799.2 L1647.9,799.4 L1646.9,799.7 L1645.9,797.0 L1644.9,800.5 L1643.9,794.5 L1642.9,795.3 L1641.9,794.1 L1640.9,791.1 L1639.9,790.9 L1638.9,789.0 L1637.9,788.7 L1636.9,786.5 L1635.9,785.7 L1634.9,784.1 L1633.9,780.4 L1632.9,779.9 L1631.9,774.9 L1630.9,777.2 L1629.9,776.2 L1628.9,773.7 L1627.9,772.2 L1626.9,771.8 L1625.9,770.4 L1624.9,769.4 L1623.9,768.3 L1622.9,766.9 L1621.9,769.3 L1620.9,768.1 L1619.9,771.7 L1618.9,767.6 L1617.9,771.9 L1616.9,767.9 L1615.9,771.4 L1614.9,772.3 L1613.9,773.3 L1612.9,775.5 L1611.9,774.3 L1610.9,779.2 L1609.9,778.7 L1608.9,784.4 L1607.9,784.0 L1606.9,788.7 L1605.9,787.6 L1604.9,791.6 L1603.9,798.2 L1602.9,800.1 L1601.9,800.3 L1600.9,802.1 L1599.9,802.1 L1598.9,803.5 L1597.9,809.3 L1596.9,812.5 L1595.9,807.7 L1594.9,811.4 L1593.9,808.0 L1592.9,816.8 L1591.9,817.2 L1590.9,815.7 L1589.9,817.7 L1588.9,817.1 L1587.9,822.7 L1586.9,820.5 L1585.9,819.7 L1584.9,822.9 L1583.9,819.2 L1582.9,823.2 L1581.9,819.5 L1580.9,823.8 L1579.9,819.3 L1578.9,820.6 L1577.9,819.7 L1576.9,814.1 L1575.9,817.7 L1574.9,813.2 L1573.9,811.7 L1572.9,812.0 L1571.9,812.6 L1570.9,807.5 L1569.9,808.7 L1568.9,806.8 L1567.9,804.0 L1566.9,802.4 L1565.9,797.9 L1564.9,799.5 L1563.9,798.5 L1562.9,795.3 L1561.9,790.7 L1560.9,791.6 L1559.9,788.8 L1558.9,787.2 L1557.9,783.8 L1556.9,777.5 L1555.9,775.3 L1554.9,778.0 L1553.9,775.8 L1552.9,772.8 L1551.9,767.2 L1550.9,765.5 L1549.9,764.3 L1548.9,758.8 L1547.9,755.2 L1546.9,753.8 L1545.9,746.6 L1544.9,747.7 L1543.9,744.2 L1542.9,744.5 L1541.9,741.7 L1540.9,734.4 L1539.9,732.4 L1538.9,729.7 L1537.9,728.8 L1536.9,726.9 L1535.9,722.9 L1534.9,722.6 L1533.9,717.5 L1532.9,720.3 L1531.9,717.3 L1530.9,717.4 L1529.9,716.9 L1528.9,713.2 L1527.9,709.8 L1526.9,712.8 L1525.9,710.1 L1524.9,708.8 L1523.9,707.9 L1522.9,702.3 L1521.9,705.9 L1520.9,705.6 L1519.9,700.4 L1518.9,698.7 L1517.9,699.9 L1516.9,700.2 L1515.9,694.5 L1514.9,699.8 L1513.9,691.2 L1512.9,697.0 L1511.9,689.9 L1510.9,689.9 L1509.9,687.5 L1508.9,687.1 L1507.9,685.4 L1506.9,682.0 L1505.9,681.0 L1504.9,679.9 L1503.9,677.1 L1502.9,675.8 L1501.9,672.0 L1500.9,668.4 L1499.9,668.2 L1498.9,668.2 L1497.9,665.4 L1496.9,659.5 L1495.9,654.7 L1494.9,654.4 L1493.9,649.4 L1492.9,650.0 L1491.9,645.4 L1490.9,643.7 L1489.9,638.5 L1488.9,635.5 L1487.9,637.0 L1486.9,630.3 L1485.9,628.4 L1484.9,631.0 L1483.9,623.2 L1482.9,628.4 L1481.9,625.6 L1480.9,622.5 L1479.9,621.6 L1478.9,617.5 L1477.9,618.4 L1476.9,617.6 L1475.9,614.9 L1474.9,616.0 L1473.9,615.3 L1472.9,615.9 L1471.9,609.9 L1470.9,608.4 L1469.9,613.0 L1468.9,610.7 L1467.9,611.7 L1466.9,606.9 L1465.9,608.7 L1464.9,607.8 L1463.9,611.9 L1462.9,608.2 L1461.9,605.6 L1460.9,607.1 L1459.9,608.4 L1458.9,608.2 L1457.9,607.8 L1456.9,607.4 L1455.9,605.2 L1454.9,605.8 L1453.9,606.4 L1452.9,603.6 L1451.9,602.3 L1450.9,604.1 L1449.9,600.2 L1448.9,601.2 L1447.9,604.5 L1446.9,601.6 L1445.9,599.6 L1444.9,600.0 L1443.9,601.6 L1442.9,598.8 L1441.9,598.0 L1440.9,598.7 L1439.9,597.2 L1438.9,596.2 L1437.9,600.9 L1436.9,596.3 L1435.9,599.8 L1434.9,599.4 L1433.9,602.9 L1432.9,604.3 L1431.9,605.6 L1430.9,604.6 L1429.9,605.7 L1428.9,601.3 L1427.9,605.8 L1426.9,607.6 L1425.9,607.7 L1424.9,608.0 L1423.9,615.8 L1422.9,615.4 L1421.9,616.8 L1420.9,620.5 L1419.9,618.8 L1418.9,624.9 L1417.9,629.4 L1416.9,628.6 L1415.9,630.4 L1414.9,636.4 L1413.9,635.7 L1412.9,640.6 L1411.9,646.1 L1410.9,652.7 L1409.9,655.0 L1408.9,655.3 L1407.9,660.7 L1406.9,664.2 L1405.9,667.2 L1404.9,672.8 L1403.9,674.6 L1402.9,681.4 L1401.9,680.5 L1400.9,690.1 L1399.9,689.7 L1398.9,697.0 L1397.9,698.9 L1396.9,702.1 L1395.9,700.1 L1394.9,706.5 L1393.9,708.2 L1392.9,708.0 L1391.9,713.8 L1390.9,714.6 L1389.9,717.5 L1388.9,720.8 L1387.9,718.5 L1386.9,722.8 L1385.9,723.4 L1384.9,724.7 L1383.9,723.8 L1382.9,725.4 L1381.9,727.4 L1380.9,730.2 L1379.9,732.1 L1378.9,726.5 L1377.9,730.0 L1376.9,725.5 L1375.9,730.8 L1374.9,730.4 L1373.9,731.7 L1372.9,731.1 L1371.9,728.5 L1370.9,729.5 L1369.9,732.1 L1368.9,730.8 L1367.9,729.8 L1366.9,729.8 L1365.9,728.1 L1364.9,725.4 L1363.9,726.6 L1362.9,726.4 L1361.9,729.6 L1360.9,724.9 L1359.9,729.8 L1358.9,721.4 L1357.9,724.3 L1356.9,724.8 L1355.9,723.8 L1354.9,721.2 L1353.9,722.9 L1352.9,724.8 L1351.9,722.4 L1350.9,726.3 L1349.9,724.2 L1348.9,728.7 L1347.9,729.4 L1346.9,727.7 L1345.9,728.0 L1344.9,731.3 L1343.9,729.9 L1342.9,731.5 L1341.9,734.1 L1340.9,733.9 L1339.9,737.3 L1338.9,738.5 L1337.9,738.5 L1336.9,741.6 L1335.9,740.4 L1334.9,745.8 L1333.9,746.5 L1332.9,750.1 L1331.9,752.8 L1330.9,750.8 L1329.9,754.7 L1328.9,759.0 L1327.9,761.7 L1326.9,763.0 L1325.9,766.3 L1324.9,770.7 L1323.9,773.4 L1322.9,773.6 L1321.9,776.8 L1320.9,782.7 L1319.9,782.3 L1318.9,786.0 L1317.9,787.7 L1316.9,793.8 L1315.9,788.5 L1314.9,794.3 L1313.9,792.9 L1312.9,792.4 L1311.9,791.3 L1310.9,795.4 L1309.9,796.3 L1308.9,796.2 L1307.9,796.5 L1306.9,794.9 L1305.9,797.6 L1304.9,792.7 L1303.9,797.4 L1302.9,799.4 L1301.9,796.2 L1300.9,796.4 L1299.9,798.3 L1298.9,799.1 L1297.9,797.6 L1296.9,796.5 L1295.9,794.1 L1294.9,793.8 L1293.9,792.9 L1292.9,796.2 L1291.9,794.9 L1290.9,795.2 L1289.9,796.7 L1288.9,797.5 L1287.9,798.6 L1286.9,796.4 L1285.9,797.5 L1284.9,795.8 L1283.9,804.4 L1282.9,800.3 L1281.9,803.4 L1280.9,804.4 L1279.9,807.3 L1278.9,806.4 L1277.9,807.9 L1276.9,809.9 L1275.9,808.6 L1274.9,811.9 L1273.9,810.0 L1272.9,807.7 L1271.9,814.0 L1270.9,809.8 L1269.9,811.1 L1268.9,810.8 L1267.9,813.7 L1266.9,804.7 L1265.9,809.3 L1264.9,806.1 L1263.9,805.4 L1262.9,806.2 L1261.9,805.2 L1260.9,801.6 L1259.9,798.0 L1258.9,799.0 L1257.9,798.0 L1256.9,789.9 L1255.9,790.1 L1254.9,788.2 L1253.9,785.6 L1252.9,786.0 L1251.9,784.8 L1250.9,782.0 L1249.9,777.8 L1248.9,779.1 L1247.9,778.0 L1246.9,773.5 L1245.9,775.5 L1244.9,772.6 L1243.9,773.6 L1242.9,774.5 L1241.9,767.1 L1240.9,765.8 L1239.9,764.9 L1238.9,763.2 L1237.9,762.5 L1236.9,763.6 L1235.9,762.3 L1234.9,765.7 L1233.9,756.2 L1232.9,761.4 L1231.9,764.2 L1230.9,756.1 L1229.9,762.1 L1228.9,755.0 L1227.9,755.2 L1226.9,759.6 L1225.9,760.6 L1224.9,755.5 L1223.9,758.1 L1222.9,755.8 L1221.9,754.2 L1220.9,750.5 L1219.9,755.6 L1218.9,754.9 L1217.9,755.0 L1216.9,750.5 L1215.9,748.2 L1214.9,747.2 L1213.9,740.9 L1212.9,744.5 L1211.9,741.7 L1210.9,742.7 L1209.9,737.9 L1208.9,738.4 L1207.9,735.5 L1206.9,733.3 L1205.9,731.8 L1204.9,730.4 L1203.9,724.9 L1202.9,726.8 L1201.9,724.8 L1200.9,722.2 L1199.9,723.1 L1198.9,723.8 L1197.9,720.6 L1196.9,723.1 L1195.9,722.4 L1194.9,721.2 L1193.9,723.7 L1192.9,725.4 L1191.9,722.5 L1190.9,723.5 L1189.9,724.0 L1188.9,728.1 L1187.9,724.6 L1186.9,729.2 L1185.9,730.4 L1184.9,729.9 L1183.9,733.6 L1182.9,737.5 L1181.9,737.6 L1180.9,742.5 L1179.9,745.1 L1178.9,739.4 L1177.9,745.4 L1176.9,750.4 L1175.9,752.4 L1174.9,753.0 L1173.9,755.0 L1172.9,760.2 L1171.9,759.3 L1170.9,757.6 L1169.9,761.7 L1168.9,760.4 L1167.9,761.2 L1166.9,763.4 L1165.9,761.4 L1164.9,764.9 L1163.9,764.0 L1162.9,763.6 L1161.9,766.1 L1160.9,766.8 L1159.9,765.5 L1158.9,767.7 L1157.9,766.5 L1156.9,768.2 L1155.9,765.3 L1154.9,764.8 L1153.9,767.0 L1152.9,763.3 L1151.9,758.8 L1150.9,757.9 L1149.9,760.9 L1148.9,756.1 L1147.9,755.2 L1146.9,752.7 L1145.9,748.8 L1144.9,747.8 L1143.9,748.9 L1142.9,747.2 L1141.9,740.0 L1140.9,740.7 L1139.9,740.5 L1138.9,731.7 L1137.9,732.0 L1136.9,729.7 L1135.9,724.1 L1134.9,722.9 L1133.9,720.0 L1132.9,721.0 L1131.9,714.3 L1130.9,713.7 L1129.9,712.2 L1128.9,707.1 L1127.9,703.1 L1126.9,699.4 L1125.9,696.9 L1124.9,693.8 L1123.9,692.0 L1122.9,686.7 L1121.9,685.8 L1120.9,681.4 L1119.9,677.6 L1118.9,674.9 L1117.9,670.4 L1116.9,670.2 L1115.9,668.0 L1114.9,662.7 L1113.9,660.5 L1112.9,661.8 L1111.9,657.3 L1110.9,659.0 L1109.9,652.5 L1108.9,653.2 L1107.9,646.9 L1106.9,653.2 L1105.9,647.6 L1104.9,643.0 L1103.9,641.9 L1102.9,638.7 L1101.9,638.4 L1100.9,636.2 L1099.9,631.7 L1098.9,633.4 L1097.9,632.2 L1096.9,625.6 L1095.9,628.8 L1094.9,628.9 L1093.9,624.0 L1092.9,626.7 L1091.9,624.5 L1090.9,619.9 L1089.9,619.3 L1088.9,618.7 L1087.9,620.7 L1086.9,618.6 L1085.9,612.8 L1084.9,615.7 L1083.9,609.1 L1082.9,604.9 L1081.9,605.8 L1080.9,602.2 L1079.9,600.5 L1078.9,601.0 L1077.9,595.8 L1076.9,592.2 L1075.9,590.7 L1074.9,588.7 L1073.9,585.9 L1072.9,583.3 L1071.9,578.0 L1070.9,577.9 L1069.9,576.9 L1068.9,572.7 L1067.9,567.7 L1066.9,563.6 L1065.9,560.3 L1064.9,560.2 L1063.9,558.8 L1062.9,554.3 L1061.9,556.1 L1060.9,550.4 L1059.9,549.1 L1058.9,545.5 L1057.9,544.3 L1056.9,544.0 L1055.9,542.0 L1054.9,541.0 L1053.9,537.9 L1052.9,538.4 L1051.9,539.5 L1050.9,537.5 L1049.9,535.5 L1048.9,535.7 L1047.9,534.2 L1046.9,531.9 L1045.9,530.5 L1044.9,532.4 L1043.9,531.3 L1042.9,530.1 L1041.9,531.9 L1040.9,527.6 L1039.9,526.5 L1038.9,524.9 L1037.9,527.4 L1036.9,527.5 L1035.9,524.0 L1034.9,525.0 L1033.9,526.2 L1032.9,524.2 L1031.9,525.6 L1030.9,522.2 L1029.9,523.5 L1028.9,520.8 L1027.9,525.2 L1026.9,518.6 L1025.9,519.5 L1024.9,518.7 L1023.9,517.5 L1022.9,517.3 L1021.9,522.4 L1020.9,513.5 L1019.9,515.5 L1018.9,512.7 L1017.9,516.8 L1016.9,517.5 L1015.9,516.1 L1014.9,516.1 L1013.9,518.1 L1012.9,515.0 L1011.9,515.4 L1010.9,517.6 L1009.9,517.4 L1008.9,513.0 L1007.9,515.7 L1006.9,517.8 L1005.9,515.4 L1004.9,520.1 L1003.9,518.9 L1002.9,521.8 L1001.9,520.6 L1000.9,528.7 L999.9,525.5 L998.9,531.8 L997.9,528.6 L996.9,532.9 L995.9,532.8 L994.9,534.2 L993.9,539.8 L992.9,544.5 L991.9,545.4 L990.9,549.5 L989.9,551.9 L988.9,557.9 L987.9,562.8 L986.9,560.5 L985.9,572.2 L984.9,568.9 L983.9,574.1 L982.9,578.8 L981.9,575.9 L980.9,587.5 L979.9,588.2 L978.9,593.1 L977.9,595.6 L976.9,596.4 L975.9,600.3 L974.9,603.1 L973.9,605.9 L972.9,608.1 L971.9,611.9 L970.9,613.9 L969.9,617.1 L968.9,619.0 L967.9,625.4 L966.9,626.9 L965.9,626.8 L964.9,628.8 L963.9,632.9 L962.9,630.7 L961.9,635.4 L960.9,633.5 L959.9,637.0 L958.9,635.6 L957.9,636.8 L956.9,633.1 L955.9,638.4 L954.9,639.7 L953.9,636.8 L952.9,638.9 L951.9,636.6 L950.9,637.4 L949.9,638.2 L948.9,640.0 L947.9,639.4 L946.9,639.9 L945.9,641.5 L944.9,636.6 L943.9,636.3 L942.9,638.8 L941.9,638.7 L940.9,635.2 L939.9,635.8 L938.9,635.6 L937.9,631.8 L936.9,635.8 L935.9,635.3 L934.9,633.8 L933.9,635.0 L932.9,634.9 L931.9,635.1 L930.9,633.8 L929.9,631.2 L928.9,627.9 L927.9,631.2 L926.9,633.1 L925.9,632.0 L924.9,637.0 L923.9,635.1 L922.9,634.0 L921.9,637.6 L920.9,640.9 L919.9,633.7 L918.9,639.7 L917.9,641.1 L916.9,640.7 L915.9,639.6 L914.9,641.4 L913.9,643.3 L912.9,647.7 L911.9,648.6 L910.9,649.7 L909.9,652.3 L908.9,656.5 L907.9,655.7 L906.9,662.2 L905.9,662.3 L904.9,664.8 L903.9,667.1 L902.9,669.5 L901.9,671.9 L900.9,679.0 L899.9,680.7 L898.9,682.1 L897.9,683.7 L896.9,687.5 L895.9,688.0 L894.9,690.5 L893.9,689.5 L892.9,691.9 L891.9,692.1 L890.9,694.9 L889.9,697.0 L888.9,698.4 L887.9,699.7 L886.9,697.4 L885.9,698.7 L884.9,702.0 L883.9,700.3 L882.9,702.3 L881.9,701.8 L880.9,702.5 L879.9,700.3 L878.9,702.5 L877.9,701.8 L876.9,697.7 L875.9,701.8 L874.9,700.7 L873.9,704.8 L872.9,699.2 L871.9,699.4 L870.9,701.7 L869.9,703.9 L868.9,700.0 L867.9,699.7 L866.9,701.5 L865.9,698.3 L864.9,704.9 L863.9,698.5 L862.9,703.1 L861.9,701.7 L860.9,703.7 L859.9,704.8 L858.9,705.6 L857.9,704.7 L856.9,706.9 L855.9,709.2 L854.9,706.6 L853.9,710.8 L852.9,716.1 L851.9,714.2 L850.9,720.5 L849.9,713.4 L848.9,712.4 L847.9,719.3 L846.9,714.3 L845.9,717.1 L844.9,711.8 L843.9,716.4 L842.9,714.6 L841.9,712.7 L840.9,713.2 L839.9,709.9 L838.9,716.2 L837.9,707.6 L836.9,707.2 L835.9,705.0 L834.9,703.5 L833.9,703.2 L832.9,700.7 L831.9,697.9 L830.9,697.3 L829.9,691.9 L828.9,694.4 L827.9,692.5 L826.9,685.9 L825.9,684.7 L824.9,684.6 L823.9,682.5 L822.9,678.4 L821.9,677.9 L820.9,678.6 L819.9,671.9 L818.9,672.1 L817.9,671.8 L816.9,668.9 L815.9,673.2 L814.9,669.2 L813.9,672.3 L812.9,668.2 L811.9,668.0 L810.9,671.4 L809.9,666.1 L808.9,665.4 L807.9,668.1 L806.9,664.9 L805.9,669.8 L804.9,664.8 L803.9,665.8 L802.9,665.0 L801.9,665.7 L800.9,661.9 L799.9,659.7 L798.9,666.2 L797.9,660.7 L796.9,661.6 L795.9,664.1 L794.9,662.5 L793.9,657.3 L792.9,656.4 L791.9,653.4 L790.9,656.5 L789.9,650.7 L788.9,652.5 L787.9,646.1 L786.9,646.9 L785.9,645.2 L784.9,645.2 L783.9,637.2 L782.9,639.7 L781.9,635.5 L780.9,634.9 L779.9,631.5 L778.9,633.7 L777.9,628.3 L776.9,629.3 L775.9,625.1 L774.9,628.9 L773.9,627.7 L772.9,623.9 L771.9,624.2 L770.9,622.6 L769.9,622.6 L768.9,621.8 L767.9,623.6 L766.9,623.0 L765.9,622.4 L764.9,626.4 L763.9,632.1 L762.9,626.6 L761.9,628.0 L760.9,632.7 L759.9,630.5 L758.9,633.4 L757.9,637.1 L756.9,638.1 L755.9,642.9 L754.9,645.3 L753.9,649.1 L752.9,646.4 L751.9,647.9 L750.9,651.6 L749.9,659.2 L748.9,660.3 L747.9,662.6 L746.9,661.6 L745.9,662.5 L744.9,663.2 L743.9,662.6 L742.9,669.1 L741.9,664.8 L740.9,664.6 L739.9,669.2 L738.9,671.3 L737.9,669.3 L736.9,669.1 L735.9,667.6 L734.9,665.9 L733.9,669.2 L732.9,667.0 L731.9,662.8 L730.9,667.0 L729.9,667.2 L728.9,664.9 L727.9,662.8 L726.9,657.5 L725.9,660.9 L724.9,657.1 L723.9,658.1 L722.9,655.0 L721.9,650.4 L720.9,647.8 L719.9,650.2 L718.9,648.8 L717.9,645.0 L716.9,636.8 L715.9,642.6 L714.9,635.5 L713.9,636.2 L712.9,631.7 L711.9,631.4 L710.9,626.5 L709.9,622.6 L708.9,622.8 L707.9,620.2 L706.9,613.6 L705.9,615.4 L704.9,612.1 L703.9,605.1 L702.9,601.2 L701.9,601.7 L700.9,598.4 L699.9,593.7 L698.9,592.3 L697.9,586.8 L696.9,583.3 L695.9,582.2 L694.9,577.6 L693.9,575.2 L692.9,571.7 L691.9,565.2 L690.9,566.0 L689.9,565.5 L688.9,558.7 L687.9,556.6 L686.9,555.2 L685.9,551.5 L684.9,551.3 L683.9,548.5 L682.9,545.8 L681.9,542.6 L680.9,547.5 L679.9,540.7 L678.9,541.2 L677.9,543.1 L676.9,539.3 L675.9,536.6 L674.9,535.1 L673.9,531.6 L672.9,531.2 L671.9,531.2 L670.9,523.4 L669.9,522.3 L668.9,524.7 L667.9,523.5 L666.9,519.9 L665.9,515.1 L664.9,515.3 L663.9,510.0 L662.9,513.2 L661.9,510.3 L660.9,511.9 L659.9,502.2 L658.9,501.8 L657.9,499.2 L656.9,499.2 L655.9,499.0 L654.9,499.4 L653.9,495.6 L652.9,491.9 L651.9,490.1 L650.9,485.2 L649.9,479.3 L648.9,479.5 L647.9,477.8 L646.9,476.4 L645.9,475.4 L644.9,471.6 L643.9,471.8 L642.9,467.1 L641.9,462.6 L640.9,460.5 L639.9,460.0 L638.9,457.3 L637.9,452.8 L636.9,456.8 L635.9,452.3 L634.9,448.6 L633.9,447.3 L632.9,446.6 L631.9,444.2 L630.9,445.7 L629.9,441.6 L628.9,439.6 L627.9,436.5 L626.9,435.3 L625.9,436.8 L624.9,437.3 L623.9,435.2 L622.9,436.3 L621.9,431.8 L620.9,432.2 L619.9,431.2 L618.9,430.3 L617.9,429.6 L616.9,427.9 L615.9,429.1 L614.9,426.0 L613.9,426.7 L612.9,427.7 L611.9,430.0 L610.9,429.7 L609.9,425.2 L608.9,431.3 L607.9,424.1 L606.9,424.2 L605.9,428.0 L604.9,422.6 L603.9,424.1 L602.9,421.5 L601.9,422.7 L600.9,422.6 L599.9,420.5 L598.9,422.9 L597.9,420.1 L596.9,415.3 L595.9,416.4 L594.9,423.9 L593.9,419.4 L592.9,418.6 L591.9,418.5 L590.9,418.4 L589.9,420.6 L588.9,418.2 L587.9,415.9 L586.9,418.3 L585.9,420.9 L584.9,418.1 L583.9,420.1 L582.9,419.9 L581.9,422.2 L580.9,426.3 L579.9,426.0 L578.9,424.4 L577.9,426.8 L576.9,426.6 L575.9,431.0 L574.9,436.9 L573.9,437.4 L572.9,445.4 L571.9,438.5 L570.9,448.3 L569.9,451.2 L568.9,451.8 L567.9,453.8 L566.9,463.6 L565.9,467.3 L564.9,465.7 L563.9,471.5 L562.9,475.7 L561.9,482.0 L560.9,483.3 L559.9,489.0 L558.9,493.5 L557.9,497.2 L556.9,500.1 L555.9,503.9 L554.9,505.4 L553.9,508.0 L552.9,512.2 L551.9,517.1 L550.9,515.8 L549.9,524.3 L548.9,524.8 L547.9,525.3 L546.9,529.0 L545.9,526.5 L544.9,528.5 L543.9,531.3 L542.9,534.3 L541.9,536.5 L540.9,541.1 L539.9,538.7 L538.9,539.4 L537.9,541.3 L536.9,543.1 L535.9,545.9 L534.9,544.0 L533.9,545.9 L532.9,550.0 L531.9,546.5 L530.9,546.3 L529.9,545.8 L528.9,545.9 L527.9,543.8 L526.9,548.0 L525.9,547.9 L524.9,545.8 L523.9,549.0 L522.9,547.0 L521.9,546.3 L520.9,545.2 L519.9,544.8 L518.9,544.3 L517.9,544.1 L516.9,545.2 L515.9,546.3 L514.9,544.5 L513.9,547.1 L512.9,545.8 L511.9,546.3 L510.9,544.5 L509.9,544.9 L508.9,543.0 L507.9,541.2 L506.9,542.8 L505.9,542.2 L504.9,542.3 L503.9,544.0 L502.9,543.9 L501.9,545.4 L500.9,541.7 L499.9,544.7 L498.9,543.9 L497.9,544.7 L496.9,548.6 L495.9,544.9 L494.9,548.7 L493.9,551.2 L492.9,549.9 L491.9,553.8 L490.9,555.4 L489.9,558.9 L488.9,561.1 L487.9,563.7 L486.9,563.7 L485.9,566.7 L484.9,571.4 L483.9,575.7 L482.9,576.9 L481.9,581.4 L480.9,580.6 L479.9,584.2 L478.9,584.5 L477.9,589.4 L476.9,593.6 L475.9,593.8 L474.9,597.8 L473.9,597.9 L472.9,604.1 L471.9,604.0 L470.9,605.4 L469.9,606.2 L468.9,609.7 L467.9,611.0 L466.9,611.1 L465.9,613.9 L464.9,612.9 L463.9,614.7 L462.9,620.8 L461.9,620.1 L460.9,617.2 L459.9,615.8 L458.9,619.2 L457.9,618.2 L456.9,619.0 L455.9,615.2 L454.9,617.8 L453.9,617.0 L452.9,614.6 L451.9,620.8 L450.9,615.6 L449.9,621.2 L448.9,619.6 L447.9,618.3 L446.9,619.7 L445.9,616.6 L444.9,620.9 L443.9,618.8 L442.9,618.0 L441.9,620.9 L440.9,623.5 L439.9,626.4 L438.9,625.5 L437.9,624.0 L436.9,627.1 L435.9,631.6 L434.9,626.9 L433.9,630.4 L432.9,636.6 L431.9,634.0 L430.9,633.5 L429.9,634.8 L428.9,640.7 L427.9,639.0 L426.9,643.0 L425.9,640.6 L424.9,641.6 L423.9,640.3 L422.9,646.6 L421.9,646.2 L420.9,648.1 L419.9,646.0 L418.9,649.7 L417.9,649.3 L416.9,653.7 L415.9,651.5 L414.9,649.9 L413.9,647.7 L412.9,647.3 L411.9,647.2 L410.9,652.7 L409.9,647.1 L408.9,650.5 L407.9,644.7 L406.9,648.0 L405.9,648.6 L404.9,646.8 L403.9,645.4 L402.9,645.0 L401.9,643.2 L400.9,641.5 L399.9,640.9 L398.9,640.2 L397.9,642.1 L396.9,639.2 L395.9,641.0 L394.9,638.7 L393.9,638.9 L392.9,636.9 L391.9,641.7 L390.9,636.6 L389.9,639.3 L388.9,640.6 L387.9,642.4 L386.9,640.8 L385.9,642.2 L384.9,641.5 L383.9,645.2 L382.9,646.0 L381.9,645.7 L380.9,647.0 L379.9,648.9 L378.9,653.2 L377.9,648.0 L376.9,655.8 L375.9,652.8 L374.9,650.4 L373.9,652.5 L372.9,650.6 L371.9,655.9 L370.9,656.7 L369.9,658.1 L368.9,654.3 L367.9,655.3 L366.9,655.7 L365.9,655.3 L364.9,656.2 L363.9,656.0 L362.9,654.9 L361.9,652.2 L360.9,654.1 L359.9,652.8 L358.9,652.1 L357.9,649.2 L356.9,645.2 L355.9,645.4 L354.9,644.2 L353.9,648.4 L352.9,646.6 L351.9,647.1 L350.9,648.7 L349.9,650.2 L348.9,645.6 L347.9,647.0 L346.9,651.3 L345.9,651.7 L344.9,652.2 L343.9,656.3 L342.9,652.4 L341.9,661.7 L340.9,660.9 L339.9,665.3 L338.9,667.0 L337.9,668.4 L336.9,674.9 L335.9,677.0 L334.9,681.0 L333.9,679.1 L332.9,685.1 L331.9,690.2 L330.9,692.5 L329.9,697.0 L328.9,697.2 L327.9,702.0 L326.9,701.8 L325.9,704.1 L324.9,710.6 L323.9,712.7 L322.9,721.7 L321.9,722.2 L320.9,723.6 L319.9,727.2 L318.9,728.8 L317.9,724.5 L316.9,731.4 L315.9,737.1 L314.9,736.0 L313.9,736.9 L312.9,739.0 L311.9,741.6 L310.9,742.7 L309.9,743.7 L308.9,741.9 L307.9,745.5 L306.9,745.2 L305.9,746.3 L304.9,747.3 L303.9,746.4 L302.9,746.2 L301.9,747.5 L300.9,744.0 L299.9,743.2 L298.9,744.5 L297.9,743.4 L296.9,741.8 L295.9,741.9 L294.9,741.9 L293.9,740.0 L292.9,736.2 L291.9,733.4 L290.9,731.1 L289.9,735.5 L288.9,731.8 L287.9,729.3 L286.9,728.2 L285.9,722.0 L284.9,717.1 L283.9,718.7 L282.9,718.1 L281.9,710.1 L280.9,711.0 L279.9,707.4 L278.9,705.0 L277.9,700.4 L276.9,697.3 L275.9,697.1 L274.9,692.5 L273.9,691.1 L272.9,684.9 L271.9,682.8 L270.9,679.0 L269.9,680.9 L268.9,675.6 L267.9,672.4 L266.9,668.5 L265.9,669.2 L264.9,662.9 L263.9,664.9 L262.9,664.7 L261.9,660.0 L260.9,658.1Z" fill="#f05a5a" fill-opacity="0.14"/>
<path d="M260.9,658.1 L261.9,660.0 L262.9,664.7 L263.9,664.9 L264.9,662.9 L265.9,669.2 L266.9,668.5 L267.9,672.4 L268.9,675.6 L269.9,680.9 L270.9,679.0 L271.9,682.8 L272.9,684.9 L273.9,691.1 L274.9,692.5 L275.9,697.1 L276.9,697.3 L277.9,700.4 L278.9,705.0 L279.9,707.4 L280.9,711.0 L281.9,710.1 L282.9,718.1 L283.9,718.7 L284.9,717.1 L285.9,722.0 L286.9,728.2 L287.9,729.3 L288.9,731.8 L289.9,735.5 L290.9,731.1 L291.9,733.4 L292.9,736.2 L293.9,740.0 L294.9,741.9 L295.9,741.9 L296.9,741.8 L297.9,743.4 L298.9,744.5 L299.9,743.2 L300.9,744.0 L301.9,747.5 L302.9,746.2 L303.9,746.4 L304.9,747.3 L305.9,746.3 L306.9,745.2 L307.9,745.5 L308.9,741.9 L309.9,743.7 L310.9,742.7 L311.9,741.6 L312.9,739.0 L313.9,736.9 L314.9,736.0 L315.9,737.1 L316.9,731.4 L317.9,724.5 L318.9,728.8 L319.9,727.2 L320.9,723.6 L321.9,722.2 L322.9,721.7 L323.9,712.7 L324.9,710.6 L325.9,704.1 L326.9,701.8 L327.9,702.0 L328.9,697.2 L329.9,697.0 L330.9,692.5 L331.9,690.2 L332.9,685.1 L333.9,679.1 L334.9,681.0 L335.9,677.0 L336.9,674.9 L337.9,668.4 L338.9,667.0 L339.9,665.3 L340.9,660.9 L341.9,661.7 L342.9,652.4 L343.9,656.3 L344.9,652.2 L345.9,651.7 L346.9,651.3 L347.9,647.0 L348.9,645.6 L349.9,650.2 L350.9,648.7 L351.9,647.1 L352.9,646.6 L353.9,648.4 L354.9,644.2 L355.9,645.4 L356.9,645.2 L357.9,649.2 L358.9,652.1 L359.9,652.8 L360.9,654.1 L361.9,652.2 L362.9,654.9 L363.9,656.0 L364.9,656.2 L365.9,655.3 L366.9,655.7 L367.9,655.3 L368.9,654.3 L369.9,658.1 L370.9,656.7 L371.9,655.9 L372.9,650.6 L373.9,652.5 L374.9,650.4 L375.9,652.8 L376.9,655.8 L377.9,648.0 L378.9,653.2 L379.9,648.9 L380.9,647.0 L381.9,645.7 L382.9,646.0 L383.9,645.2 L384.9,641.5 L385.9,642.2 L386.9,640.8 L387.9,642.4 L388.9,640.6 L389.9,639.3 L390.9,636.6 L391.9,641.7 L392.9,636.9 L393.9,638.9 L394.9,638.7 L395.9,641.0 L396.9,639.2 L397.9,642.1 L398.9,640.2 L399.9,640.9 L400.9,641.5 L401.9,643.2 L402.9,645.0 L403.9,645.4 L404.9,646.8 L405.9,648.6 L406.9,648.0 L407.9,644.7 L408.9,650.5 L409.9,647.1 L410.9,652.7 L411.9,647.2 L412.9,647.3 L413.9,647.7 L414.9,649.9 L415.9,651.5 L416.9,653.7 L417.9,649.3 L418.9,649.7 L419.9,646.0 L420.9,648.1 L421.9,646.2 L422.9,646.6 L423.9,640.3 L424.9,641.6 L425.9,640.6 L426.9,643.0 L427.9,639.0 L428.9,640.7 L429.9,634.8 L430.9,633.5 L431.9,634.0 L432.9,636.6 L433.9,630.4 L434.9,626.9 L435.9,631.6 L436.9,627.1 L437.9,624.0 L438.9,625.5 L439.9,626.4 L440.9,623.5 L441.9,620.9 L442.9,618.0 L443.9,618.8 L444.9,620.9 L445.9,616.6 L446.9,619.7 L447.9,618.3 L448.9,619.6 L449.9,621.2 L450.9,615.6 L451.9,620.8 L452.9,614.6 L453.9,617.0 L454.9,617.8 L455.9,615.2 L456.9,619.0 L457.9,618.2 L458.9,619.2 L459.9,615.8 L460.9,617.2 L461.9,620.1 L462.9,620.8 L463.9,614.7 L464.9,612.9 L465.9,613.9 L466.9,611.1 L467.9,611.0 L468.9,609.7 L469.9,606.2 L470.9,605.4 L471.9,604.0 L472.9,604.1 L473.9,597.9 L474.9,597.8 L475.9,593.8 L476.9,593.6 L477.9,589.4 L478.9,584.5 L479.9,584.2 L480.9,580.6 L481.9,581.4 L482.9,576.9 L483.9,575.7 L484.9,571.4 L485.9,566.7 L486.9,563.7 L487.9,563.7 L488.9,561.1 L489.9,558.9 L490.9,555.4 L491.9,553.8 L492.9,549.9 L493.9,551.2 L494.9,548.7 L495.9,544.9 L496.9,548.6 L497.9,544.7 L498.9,543.9 L499.9,544.7 L500.9,541.7 L501.9,545.4 L502.9,543.9 L503.9,544.0 L504.9,542.3 L505.9,542.2 L506.9,542.8 L507.9,541.2 L508.9,543.0 L509.9,544.9 L510.9,544.5 L511.9,546.3 L512.9,545.8 L513.9,547.1 L514.9,544.5 L515.9,546.3 L516.9,545.2 L517.9,544.1 L518.9,544.3 L519.9,544.8 L520.9,545.2 L521.9,546.3 L522.9,547.0 L523.9,549.0 L524.9,545.8 L525.9,547.9 L526.9,548.0 L527.9,543.8 L528.9,545.9 L529.9,545.8 L530.9,546.3 L531.9,546.5 L532.9,550.0 L533.9,545.9 L534.9,544.0 L535.9,545.9 L536.9,543.1 L537.9,541.3 L538.9,539.4 L539.9,538.7 L540.9,541.1 L541.9,536.5 L542.9,534.3 L543.9,531.3 L544.9,528.5 L545.9,526.5 L546.9,529.0 L547.9,525.3 L548.9,524.8 L549.9,524.3 L550.9,515.8 L551.9,517.1 L552.9,512.2 L553.9,508.0 L554.9,505.4 L555.9,503.9 L556.9,500.1 L557.9,497.2 L558.9,493.5 L559.9,489.0 L560.9,483.3 L561.9,482.0 L562.9,475.7 L563.9,471.5 L564.9,465.7 L565.9,467.3 L566.9,463.6 L567.9,453.8 L568.9,451.8 L569.9,451.2 L570.9,448.3 L571.9,438.5 L572.9,445.4 L573.9,437.4 L574.9,436.9 L575.9,431.0 L576.9,426.6 L577.9,426.8 L578.9,424.4 L579.9,426.0 L580.9,426.3 L581.9,422.2 L582.9,419.9 L583.9,420.1 L584.9,418.1 L585.9,420.9 L586.9,418.3 L587.9,415.9 L588.9,418.2 L589.9,420.6 L590.9,418.4 L591.9,418.5 L592.9,418.6 L593.9,419.4 L594.9,423.9 L595.9,416.4 L596.9,415.3 L597.9,420.1 L598.9,422.9 L599.9,420.5 L600.9,422.6 L601.9,422.7 L602.9,421.5 L603.9,424.1 L604.9,422.6 L605.9,428.0 L606.9,424.2 L607.9,424.1 L608.9,431.3 L609.9,425.2 L610.9,429.7 L611.9,430.0 L612.9,427.7 L613.9,426.7 L614.9,426.0 L615.9,429.1 L616.9,427.9 L617.9,429.6 L618.9,430.3 L619.9,431.2 L620.9,432.2 L621.9,431.8 L622.9,436.3 L623.9,435.2 L624.9,437.3 L625.9,436.8 L626.9,435.3 L627.9,436.5 L628.9,439.6 L629.9,441.6 L630.9,445.7 L631.9,444.2 L632.9,446.6 L633.9,447.3 L634.9,448.6 L635.9,452.3 L636.9,456.8 L637.9,452.8 L638.9,457.3 L639.9,460.0 L640.9,460.5 L641.9,462.6 L642.9,467.1 L643.9,471.8 L644.9,471.6 L645.9,475.4 L646.9,476.4 L647.9,477.8 L648.9,479.5 L649.9,479.3 L650.9,485.2 L651.9,490.1 L652.9,491.9 L653.9,495.6 L654.9,499.4 L655.9,499.0 L656.9,499.2 L657.9,499.2 L658.9,501.8 L659.9,502.2 L660.9,511.9 L661.9,510.3 L662.9,513.2 L663.9,510.0 L664.9,515.3 L665.9,515.1 L666.9,519.9 L667.9,523.5 L668.9,524.7 L669.9,522.3 L670.9,523.4 L671.9,531.2 L672.9,531.2 L673.9,531.6 L674.9,535.1 L675.9,536.6 L676.9,539.3 L677.9,543.1 L678.9,541.2 L679.9,540.7 L680.9,547.5 L681.9,542.6 L682.9,545.8 L683.9,548.5 L684.9,551.3 L685.9,551.5 L686.9,555.2 L687.9,556.6 L688.9,558.7 L689.9,565.5 L690.9,566.0 L691.9,565.2 L692.9,571.7 L693.9,575.2 L694.9,577.6 L695.9,582.2 L696.9,583.3 L697.9,586.8 L698.9,592.3 L699.9,593.7 L700.9,598.4 L701.9,601.7 L702.9,601.2 L703.9,605.1 L704.9,612.1 L705.9,615.4 L706.9,613.6 L707.9,620.2 L708.9,622.8 L709.9,622.6 L710.9,626.5 L711.9,631.4 L712.9,631.7 L713.9,636.2 L714.9,635.5 L715.9,642.6 L716.9,636.8 L717.9,645.0 L718.9,648.8 L719.9,650.2 L720.9,647.8 L721.9,650.4 L722.9,655.0 L723.9,658.1 L724.9,657.1 L725.9,660.9 L726.9,657.5 L727.9,662.8 L728.9,664.9 L729.9,667.2 L730.9,667.0 L731.9,662.8 L732.9,667.0 L733.9,669.2 L734.9,665.9 L735.9,667.6 L736.9,669.1 L737.9,669.3 L738.9,671.3 L739.9,669.2 L740.9,664.6 L741.9,664.8 L742.9,669.1 L743.9,662.6 L744.9,663.2 L745.9,662.5 L746.9,661.6 L747.9,662.6 L748.9,660.3 L749.9,659.2 L750.9,651.6 L751.9,647.9 L752.9,646.4 L753.9,649.1 L754.9,645.3 L755.9,642.9 L756.9,638.1 L757.9,637.1 L758.9,633.4 L759.9,630.5 L760.9,632.7 L761.9,628.0 L762.9,626.6 L763.9,632.1 L764.9,626.4 L765.9,622.4 L766.9,623.0 L767.9,623.6 L768.9,621.8 L769.9,622.6 L770.9,622.6 L771.9,624.2 L772.9,623.9 L773.9,627.7 L774.9,628.9 L775.9,625.1 L776.9,629.3 L777.9,628.3 L778.9,633.7 L779.9,631.5 L780.9,634.9 L781.9,635.5 L782.9,639.7 L783.9,637.2 L784.9,645.2 L785.9,645.2 L786.9,646.9 L787.9,646.1 L788.9,652.5 L789.9,650.7 L790.9,656.5 L791.9,653.4 L792.9,656.4 L793.9,657.3 L794.9,662.5 L795.9,664.1 L796.9,661.6 L797.9,660.7 L798.9,666.2 L799.9,659.7 L800.9,661.9 L801.9,665.7 L802.9,665.0 L803.9,665.8 L804.9,664.8 L805.9,669.8 L806.9,664.9 L807.9,668.1 L808.9,665.4 L809.9,666.1 L810.9,671.4 L811.9,668.0 L812.9,668.2 L813.9,672.3 L814.9,669.2 L815.9,673.2 L816.9,668.9 L817.9,671.8 L818.9,672.1 L819.9,671.9 L820.9,678.6 L821.9,677.9 L822.9,678.4 L823.9,682.5 L824.9,684.6 L825.9,684.7 L826.9,685.9 L827.9,692.5 L828.9,694.4 L829.9,691.9 L830.9,697.3 L831.9,697.9 L832.9,700.7 L833.9,703.2 L834.9,703.5 L835.9,705.0 L836.9,707.2 L837.9,707.6 L838.9,716.2 L839.9,709.9 L840.9,713.2 L841.9,712.7 L842.9,714.6 L843.9,716.4 L844.9,711.8 L845.9,717.1 L846.9,714.3 L847.9,719.3 L848.9,712.4 L849.9,713.4 L850.9,720.5 L851.9,714.2 L852.9,716.1 L853.9,710.8 L854.9,706.6 L855.9,709.2 L856.9,706.9 L857.9,704.7 L858.9,705.6 L859.9,704.8 L860.9,703.7 L861.9,701.7 L862.9,703.1 L863.9,698.5 L864.9,704.9 L865.9,698.3 L866.9,701.5 L867.9,699.7 L868.9,700.0 L869.9,703.9 L870.9,701.7 L871.9,699.4 L872.9,699.2 L873.9,704.8 L874.9,700.7 L875.9,701.8 L876.9,697.7 L877.9,701.8 L878.9,702.5 L879.9,700.3 L880.9,702.5 L881.9,701.8 L882.9,702.3 L883.9,700.3 L884.9,702.0 L885.9,698.7 L886.9,697.4 L887.9,699.7 L888.9,698.4 L889.9,697.0 L890.9,694.9 L891.9,692.1 L892.9,691.9 L893.9,689.5 L894.9,690.5 L895.9,688.0 L896.9,687.5 L897.9,683.7 L898.9,682.1 L899.9,680.7 L900.9,679.0 L901.9,671.9 L902.9,669.5 L903.9,667.1 L904.9,664.8 L905.9,662.3 L906.9,662.2 L907.9,655.7 L908.9,656.5 L909.9,652.3 L910.9,649.7 L911.9,648.6 L912.9,647.7 L913.9,643.3 L914.9,641.4 L915.9,639.6 L916.9,640.7 L917.9,641.1 L918.9,639.7 L919.9,633.7 L920.9,640.9 L921.9,637.6 L922.9,634.0 L923.9,635.1 L924.9,637.0 L925.9,632.0 L926.9,633.1 L927.9,631.2 L928.9,627.9 L929.9,631.2 L930.9,633.8 L931.9,635.1 L932.9,634.9 L933.9,635.0 L934.9,633.8 L935.9,635.3 L936.9,635.8 L937.9,631.8 L938.9,635.6 L939.9,635.8 L940.9,635.2 L941.9,638.7 L942.9,638.8 L943.9,636.3 L944.9,636.6 L945.9,641.5 L946.9,639.9 L947.9,639.4 L948.9,640.0 L949.9,638.2 L950.9,637.4 L951.9,636.6 L952.9,638.9 L953.9,636.8 L954.9,639.7 L955.9,638.4 L956.9,633.1 L957.9,636.8 L958.9,635.6 L959.9,637.0 L960.9,633.5 L961.9,635.4 L962.9,630.7 L963.9,632.9 L964.9,628.8 L965.9,626.8 L966.9,626.9 L967.9,625.4 L968.9,619.0 L969.9,617.1 L970.9,613.9 L971.9,611.9 L972.9,608.1 L973.9,605.9 L974.9,603.1 L975.9,600.3 L976.9,596.4 L977.9,595.6 L978.9,593.1 L979.9,588.2 L980.9,587.5 L981.9,575.9 L982.9,578.8 L983.9,574.1 L984.9,568.9 L985.9,572.2 L986.9,560.5 L987.9,562.8 L988.9,557.9 L989.9,551.9 L990.9,549.5 L991.9,545.4 L992.9,544.5 L993.9,539.8 L994.9,534.2 L995.9,532.8 L996.9,532.9 L997.9,528.6 L998.9,531.8 L999.9,525.5 L1000.9,528.7 L1001.9,520.6 L1002.9,521.8 L1003.9,518.9 L1004.9,520.1 L1005.9,515.4 L1006.9,517.8 L1007.9,515.7 L1008.9,513.0 L1009.9,517.4 L1010.9,517.6 L1011.9,515.4 L1012.9,515.0 L1013.9,518.1 L1014.9,516.1 L1015.9,516.1 L1016.9,517.5 L1017.9,516.8 L1018.9,512.7 L1019.9,515.5 L1020.9,513.5 L1021.9,522.4 L1022.9,517.3 L1023.9,517.5 L1024.9,518.7 L1025.9,519.5 L1026.9,518.6 L1027.9,525.2 L1028.9,520.8 L1029.9,523.5 L1030.9,522.2 L1031.9,525.6 L1032.9,524.2 L1033.9,526.2 L1034.9,525.0 L1035.9,524.0 L1036.9,527.5 L1037.9,527.4 L1038.9,524.9 L1039.9,526.5 L1040.9,527.6 L1041.9,531.9 L1042.9,530.1 L1043.9,531.3 L1044.9,532.4 L1045.9,530.5 L1046.9,531.9 L1047.9,534.2 L1048.9,535.7 L1049.9,535.5 L1050.9,537.5 L1051.9,539.5 L1052.9,538.4 L1053.9,537.9 L1054.9,541.0 L1055.9,542.0 L1056.9,544.0 L1057.9,544.3 L1058.9,545.5 L1059.9,549.1 L1060.9,550.4 L1061.9,556.1 L1062.9,554.3 L1063.9,558.8 L1064.9,560.2 L1065.9,560.3 L1066.9,563.6 L1067.9,567.7 L1068.9,572.7 L1069.9,576.9 L1070.9,577.9 L1071.9,578.0 L1072.9,583.3 L1073.9,585.9 L1074.9,588.7 L1075.9,590.7 L1076.9,592.2 L1077.9,595.8 L1078.9,601.0 L1079.9,600.5 L1080.9,602.2 L1081.9,605.8 L1082.9,604.9 L1083.9,609.1 L1084.9,615.7 L1085.9,612.8 L1086.9,618.6 L1087.9,620.7 L1088.9,618.7 L1089.9,619.3 L1090.9,619.9 L1091.9,624.5 L1092.9,626.7 L1093.9,624.0 L1094.9,628.9 L1095.9,628.8 L1096.9,625.6 L1097.9,632.2 L1098.9,633.4 L1099.9,631.7 L1100.9,636.2 L1101.9,638.4 L1102.9,638.7 L1103.9,641.9 L1104.9,643.0 L1105.9,647.6 L1106.9,653.2 L1107.9,646.9 L1108.9,653.2 L1109.9,652.5 L1110.9,659.0 L1111.9,657.3 L1112.9,661.8 L1113.9,660.5 L1114.9,662.7 L1115.9,668.0 L1116.9,670.2 L1117.9,670.4 L1118.9,674.9 L1119.9,677.6 L1120.9,681.4 L1121.9,685.8 L1122.9,686.7 L1123.9,692.0 L1124.9,693.8 L1125.9,696.9 L1126.9,699.4 L1127.9,703.1 L1128.9,707.1 L1129.9,712.2 L1130.9,713.7 L1131.9,714.3 L1132.9,721.0 L1133.9,720.0 L1134.9,722.9 L1135.9,724.1 L1136.9,729.7 L1137.9,732.0 L1138.9,731.7 L1139.9,740.5 L1140.9,740.7 L1141.9,740.0 L1142.9,747.2 L1143.9,748.9 L1144.9,747.8 L1145.9,748.8 L1146.9,752.7 L1147.9,755.2 L1148.9,756.1 L1149.9,760.9 L1150.9,757.9 L1151.9,758.8 L1152.9,763.3 L1153.9,767.0 L1154.9,764.8 L1155.9,765.3 L1156.9,768.2 L1157.9,766.5 L1158.9,767.7 L1159.9,765.5 L1160.9,766.8 L1161.9,766.1 L1162.9,763.6 L1163.9,764.0 L1164.9,764.9 L1165.9,761.4 L1166.9,763.4 L1167.9,761.2 L1168.9,760.4 L1169.9,761.7 L1170.9,757.6 L1171.9,759.3 L1172.9,760.2 L1173.9,755.0 L1174.9,753.0 L1175.9,752.4 L1176.9,750.4 L1177.9,745.4 L1178.9,739.4 L1179.9,745.1 L1180.9,742.5 L1181.9,737.6 L1182.9,737.5 L1183.9,733.6 L1184.9,729.9 L1185.9,730.4 L1186.9,729.2 L1187.9,724.6 L1188.9,728.1 L1189.9,724.0 L1190.9,723.5 L1191.9,722.5 L1192.9,725.4 L1193.9,723.7 L1194.9,721.2 L1195.9,722.4 L1196.9,723.1 L1197.9,720.6 L1198.9,723.8 L1199.9,723.1 L1200.9,722.2 L1201.9,724.8 L1202.9,726.8 L1203.9,724.9 L1204.9,730.4 L1205.9,731.8 L1206.9,733.3 L1207.9,735.5 L1208.9,738.4 L1209.9,737.9 L1210.9,742.7 L1211.9,741.7 L1212.9,744.5 L1213.9,740.9 L1214.9,747.2 L1215.9,748.2 L1216.9,750.5 L1217.9,755.0 L1218.9,754.9 L1219.9,755.6 L1220.9,750.5 L1221.9,754.2 L1222.9,755.8 L1223.9,758.1 L1224.9,755.5 L1225.9,760.6 L1226.9,759.6 L1227.9,755.2 L1228.9,755.0 L1229.9,762.1 L1230.9,756.1 L1231.9,764.2 L1232.9,761.4 L1233.9,756.2 L1234.9,765.7 L1235.9,762.3 L1236.9,763.6 L1237.9,762.5 L1238.9,763.2 L1239.9,764.9 L1240.9,765.8 L1241.9,767.1 L1242.9,774.5 L1243.9,773.6 L1244.9,772.6 L1245.9,775.5 L1246.9,773.5 L1247.9,778.0 L1248.9,779.1 L1249.9,777.8 L1250.9,782.0 L1251.9,784.8 L1252.9,786.0 L1253.9,785.6 L1254.9,788.2 L1255.9,790.1 L1256.9,789.9 L1257.9,798.0 L1258.9,799.0 L1259.9,798.0 L1260.9,801.6 L1261.9,805.2 L1262.9,806.2 L1263.9,805.4 L1264.9,806.1 L1265.9,809.3 L1266.9,804.7 L1267.9,813.7 L1268.9,810.8 L1269.9,811.1 L1270.9,809.8 L1271.9,814.0 L1272.9,807.7 L1273.9,810.0 L1274.9,811.9 L1275.9,808.6 L1276.9,809.9 L1277.9,807.9 L1278.9,806.4 L1279.9,807.3 L1280.9,804.4 L1281.9,803.4 L1282.9,800.3 L1283.9,804.4 L1284.9,795.8 L1285.9,797.5 L1286.9,796.4 L1287.9,798.6 L1288.9,797.5 L1289.9,796.7 L1290.9,795.2 L1291.9,794.9 L1292.9,796.2 L1293.9,792.9 L1294.9,793.8 L1295.9,794.1 L1296.9,796.5 L1297.9,797.6 L1298.9,799.1 L1299.9,798.3 L1300.9,796.4 L1301.9,796.2 L1302.9,799.4 L1303.9,797.4 L1304.9,792.7 L1305.9,797.6 L1306.9,794.9 L1307.9,796.5 L1308.9,796.2 L1309.9,796.3 L1310.9,795.4 L1311.9,791.3 L1312.9,792.4 L1313.9,792.9 L1314.9,794.3 L1315.9,788.5 L1316.9,793.8 L1317.9,787.7 L1318.9,786.0 L1319.9,782.3 L1320.9,782.7 L1321.9,776.8 L1322.9,773.6 L1323.9,773.4 L1324.9,770.7 L1325.9,766.3 L1326.9,763.0 L1327.9,761.7 L1328.9,759.0 L1329.9,754.7 L1330.9,750.8 L1331.9,752.8 L1332.9,750.1 L1333.9,746.5 L1334.9,745.8 L1335.9,740.4 L1336.9,741.6 L1337.9,738.5 L1338.9,738.5 L1339.9,737.3 L1340.9,733.9 L1341.9,734.1 L1342.9,731.5 L1343.9,729.9 L1344.9,731.3 L1345.9,728.0 L1346.9,727.7 L1347.9,729.4 L1348.9,728.7 L1349.9,724.2 L1350.9,726.3 L1351.9,722.4 L1352.9,724.8 L1353.9,722.9 L1354.9,721.2 L1355.9,723.8 L1356.9,724.8 L1357.9,724.3 L1358.9,721.4 L1359.9,729.8 L1360.9,724.9 L1361.9,729.6 L1362.9,726.4 L1363.9,726.6 L1364.9,725.4 L1365.9,728.1 L1366.9,729.8 L1367.9,729.8 L1368.9,730.8 L1369.9,732.1 L1370.9,729.5 L1371.9,728.5 L1372.9,731.1 L1373.9,731.7 L1374.9,730.4 L1375.9,730.8 L1376.9,725.5 L1377.9,730.0 L1378.9,726.5 L1379.9,732.1 L1380.9,730.2 L1381.9,727.4 L1382.9,725.4 L1383.9,723.8 L1384.9,724.7 L1385.9,723.4 L1386.9,722.8 L1387.9,718.5 L1388.9,720.8 L1389.9,717.5 L1390.9,714.6 L1391.9,713.8 L1392.9,708.0 L1393.9,708.2 L1394.9,706.5 L1395.9,700.1 L1396.9,702.1 L1397.9,698.9 L1398.9,697.0 L1399.9,689.7 L1400.9,690.1 L1401.9,680.5 L1402.9,681.4 L1403.9,674.6 L1404.9,672.8 L1405.9,667.2 L1406.9,664.2 L1407.9,660.7 L1408.9,655.3 L1409.9,655.0 L1410.9,652.7 L1411.9,646.1 L1412.9,640.6 L1413.9,635.7 L1414.9,636.4 L1415.9,630.4 L1416.9,628.6 L1417.9,629.4 L1418.9,624.9 L1419.9,618.8 L1420.9,620.5 L1421.9,616.8 L1422.9,615.4 L1423.9,615.8 L1424.9,608.0 L1425.9,607.7 L1426.9,607.6 L1427.9,605.8 L1428.9,601.3 L1429.9,605.7 L1430.9,604.6 L1431.9,605.6 L1432.9,604.3 L1433.9,602.9 L1434.9,599.4 L1435.9,599.8 L1436.9,596.3 L1437.9,600.9 L1438.9,596.2 L1439.9,597.2 L1440.9,598.7 L1441.9,598.0 L1442.9,598.8 L1443.9,601.6 L1444.9,600.0 L1445.9,599.6 L1446.9,601.6 L1447.9,604.5 L1448.9,601.2 L1449.9,600.2 L1450.9,604.1 L1451.9,602.3 L1452.9,603.6 L1453.9,606.4 L1454.9,605.8 L1455.9,605.2 L1456.9,607.4 L1457.9,607.8 L1458.9,608.2 L1459.9,608.4 L1460.9,607.1 L1461.9,605.6 L1462.9,608.2 L1463.9,611.9 L1464.9,607.8 L1465.9,608.7 L1466.9,606.9 L1467.9,611.7 L1468.9,610.7 L1469.9,613.0 L1470.9,608.4 L1471.9,609.9 L1472.9,615.9 L1473.9,615.3 L1474.9,616.0 L1475.9,614.9 L1476.9,617.6 L1477.9,618.4 L1478.9,617.5 L1479.9,621.6 L1480.9,622.5 L1481.9,625.6 L1482.9,628.4 L1483.9,623.2 L1484.9,631.0 L1485.9,628.4 L1486.9,630.3 L1487.9,637.0 L1488.9,635.5 L1489.9,638.5 L1490.9,643.7 L1491.9,645.4 L1492.9,650.0 L1493.9,649.4 L1494.9,654.4 L1495.9,654.7 L1496.9,659.5 L1497.9,665.4 L1498.9,668.2 L1499.9,668.2 L1500.9,668.4 L1501.9,672.0 L1502.9,675.8 L1503.9,677.1 L1504.9,679.9 L1505.9,681.0 L1506.9,682.0 L1507.9,685.4 L1508.9,687.1 L1509.9,687.5 L1510.9,689.9 L1511.9,689.9 L1512.9,697.0 L1513.9,691.2 L1514.9,699.8 L1515.9,694.5 L1516.9,700.2 L1517.9,699.9 L1518.9,698.7 L1519.9,700.4 L1520.9,705.6 L1521.9,705.9 L1522.9,702.3 L1523.9,707.9 L1524.9,708.8 L1525.9,710.1 L1526.9,712.8 L1527.9,709.8 L1528.9,713.2 L1529.9,716.9 L1530.9,717.4 L1531.9,717.3 L1532.9,720.3 L1533.9,717.5 L1534.9,722.6 L1535.9,722.9 L1536.9,726.9 L1537.9,728.8 L1538.9,729.7 L1539.9,732.4 L1540.9,734.4 L1541.9,741.7 L1542.9,744.5 L1543.9,744.2 L1544.9,747.7 L1545.9,746.6 L1546.9,753.8 L1547.9,755.2 L1548.9,758.8 L1549.9,764.3 L1550.9,765.5 L1551.9,767.2 L1552.9,772.8 L1553.9,775.8 L1554.9,778.0 L1555.9,775.3 L1556.9,777.5 L1557.9,783.8 L1558.9,787.2 L1559.9,788.8 L1560.9,791.6 L1561.9,790.7 L1562.9,795.3 L1563.9,798.5 L1564.9,799.5 L1565.9,797.9 L1566.9,802.4 L1567.9,804.0 L1568.9,806.8 L1569.9,808.7 L1570.9,807.5 L1571.9,812.6 L1572.9,812.0 L1573.9,811.7 L1574.9,813.2 L1575.9,817.7 L1576.9,814.1 L1577.9,819.7 L1578.9,820.6 L1579.9,819.3 L1580.9,823.8 L1581.9,819.5 L1582.9,823.2 L1583.9,819.2 L1584.9,822.9 L1585.9,819.7 L1586.9,820.5 L1587.9,822.7 L1588.9,817.1 L1589.9,817.7 L1590.9,815.7 L1591.9,817.2 L1592.9,816.8 L1593.9,808.0 L1594.9,811.4 L1595.9,807.7 L1596.9,812.5 L1597.9,809.3 L1598.9,803.5 L1599.9,802.1 L1600.9,802.1 L1601.9,800.3 L1602.9,800.1 L1603.9,798.2 L1604.9,791.6 L1605.9,787.6 L1606.9,788.7 L1607.9,784.0 L1608.9,784.4 L1609.9,778.7 L1610.9,779.2 L1611.9,774.3 L1612.9,775.5 L1613.9,773.3 L1614.9,772.3 L1615.9,771.4 L1616.9,767.9 L1617.9,771.9 L1618.9,767.6 L1619.9,771.7 L1620.9,768.1 L1621.9,769.3 L1622.9,766.9 L1623.9,768.3 L1624.9,769.4 L1625.9,770.4 L1626.9,771.8 L1627.9,772.2 L1628.9,773.7 L1629.9,776.2 L1630.9,777.2 L1631.9,774.9 L1632.9,779.9 L1633.9,780.4 L1634.9,784.1 L1635.9,785.7 L1636.9,786.5 L1637.9,788.7 L1638.9,789.0 L1639.9,790.9 L1640.9,791.1 L1641.9,794.1 L1642.9,795.3 L1643.9,794.5 L1644.9,800.5 L1645.9,797.0 L1646.9,799.7 L1647.9,799.4 L1648.9,799.2 L1649.9,803.4 L1650.9,797.9 L1651.9,800.7 L1652.9,795.5 L1653.9,800.8 L1654.9,801.2 L1655.9,800.6 L1656.9,799.8 L1657.9,803.2 L1658.9,802.7 L1659.9,800.8 L1659.9,948.7 L1658.9,951.9 L1657.9,950.6 L1656.9,950.5 L1655.9,949.4 L1654.9,947.4 L1653.9,947.5 L1652.9,948.0 L1651.9,948.6 L1650.9,950.1 L1649.9,944.2 L1648.9,948.6 L1647.9,948.0 L1646.9,950.0 L1645.9,947.5 L1644.9,944.3 L1643.9,946.5 L1642.9,945.4 L1641.9,941.6 L1640.9,938.5 L1639.9,939.2 L1638.9,937.8 L1637.9,935.6 L1636.9,931.8 L1635.9,932.3 L1634.9,926.8 L1633.9,925.4 L1632.9,922.0 L1631.9,923.8 L1630.9,918.6 L1629.9,918.3 L1628.9,914.5 L1627.9,912.4 L1626.9,911.0 L1625.9,905.9 L1624.9,908.0 L1623.9,904.3 L1622.9,903.4 L1621.9,902.8 L1620.9,902.1 L1619.9,902.6 L1618.9,902.9 L1617.9,903.3 L1616.9,906.1 L1615.9,907.8 L1614.9,905.8 L1613.9,904.4 L1612.9,907.6 L1611.9,907.4 L1610.9,908.7 L1609.9,912.1 L1608.9,909.6 L1607.9,915.0 L1606.9,915.6 L1605.9,918.5 L1604.9,922.8 L1603.9,923.3 L1602.9,924.2 L1601.9,928.5 L1600.9,928.7 L1599.9,930.1 L1598.9,930.3 L1597.9,936.1 L1596.9,935.1 L1595.9,935.7 L1594.9,934.0 L1593.9,938.7 L1592.9,938.8 L1591.9,938.4 L1590.9,935.3 L1589.9,937.2 L1588.9,941.0 L1587.9,943.3 L1586.9,945.0 L1585.9,945.4 L1584.9,938.1 L1583.9,940.1 L1582.9,941.1 L1581.9,940.0 L1580.9,933.4 L1579.9,940.8 L1578.9,937.8 L1577.9,934.3 L1576.9,935.1 L1575.9,934.6 L1574.9,927.6 L1573.9,929.4 L1572.9,924.3 L1571.9,923.5 L1570.9,924.1 L1569.9,921.6 L1568.9,920.5 L1567.9,914.4 L1566.9,918.0 L1565.9,915.2 L1564.9,913.2 L1563.9,912.7 L1562.9,906.7 L1561.9,904.3 L1560.9,902.2 L1559.9,899.6 L1558.9,897.2 L1557.9,890.8 L1556.9,889.2 L1555.9,891.1 L1554.9,886.2 L1553.9,882.1 L1552.9,877.1 L1551.9,874.5 L1550.9,870.6 L1549.9,870.8 L1548.9,869.6 L1547.9,862.5 L1546.9,858.9 L1545.9,853.3 L1544.9,854.4 L1543.9,849.6 L1542.9,849.4 L1541.9,841.9 L1540.9,836.5 L1539.9,834.1 L1538.9,833.4 L1537.9,828.4 L1536.9,828.9 L1535.9,827.7 L1534.9,824.8 L1533.9,818.4 L1532.9,820.0 L1531.9,819.2 L1530.9,812.3 L1529.9,813.4 L1528.9,812.2 L1527.9,812.0 L1526.9,809.0 L1525.9,806.7 L1524.9,808.1 L1523.9,803.0 L1522.9,804.4 L1521.9,805.5 L1520.9,803.9 L1519.9,800.5 L1518.9,801.7 L1517.9,798.1 L1516.9,797.8 L1515.9,793.6 L1514.9,792.4 L1513.9,791.6 L1512.9,787.2 L1511.9,790.0 L1510.9,786.4 L1509.9,784.0 L1508.9,784.2 L1507.9,777.9 L1506.9,775.2 L1505.9,772.5 L1504.9,773.4 L1503.9,773.1 L1502.9,773.1 L1501.9,764.1 L1500.9,761.8 L1499.9,760.5 L1498.9,758.6 L1497.9,755.6 L1496.9,755.1 L1495.9,747.4 L1494.9,746.7 L1493.9,746.5 L1492.9,740.8 L1491.9,738.2 L1490.9,732.9 L1489.9,731.5 L1488.9,724.3 L1487.9,726.8 L1486.9,721.9 L1485.9,721.6 L1484.9,721.7 L1483.9,714.7 L1482.9,712.5 L1481.9,713.2 L1480.9,707.6 L1479.9,709.1 L1478.9,705.8 L1477.9,702.8 L1476.9,706.7 L1475.9,702.0 L1474.9,706.7 L1473.9,702.6 L1472.9,699.8 L1471.9,700.5 L1470.9,695.3 L1469.9,700.0 L1468.9,695.0 L1467.9,699.7 L1466.9,700.5 L1465.9,697.3 L1464.9,694.4 L1463.9,693.3 L1462.9,692.8 L1461.9,691.1 L1460.9,694.4 L1459.9,690.6 L1458.9,696.6 L1457.9,693.4 L1456.9,692.2 L1455.9,689.6 L1454.9,691.4 L1453.9,694.0 L1452.9,688.7 L1451.9,687.2 L1450.9,688.3 L1449.9,686.2 L1448.9,686.1 L1447.9,683.6 L1446.9,680.9 L1445.9,686.0 L1444.9,680.9 L1443.9,681.1 L1442.9,681.4 L1441.9,683.0 L1440.9,682.2 L1439.9,681.0 L1438.9,682.0 L1437.9,679.9 L1436.9,685.2 L1435.9,683.2 L1434.9,680.1 L1433.9,679.9 L1432.9,683.5 L1431.9,684.9 L1430.9,681.3 L1429.9,685.7 L1428.9,685.4 L1427.9,687.4 L1426.9,685.2 L1425.9,688.7 L1424.9,690.2 L1423.9,687.0 L1422.9,691.6 L1421.9,694.7 L1420.9,698.4 L1419.9,696.8 L1418.9,702.0 L1417.9,702.6 L1416.9,707.8 L1415.9,707.7 L1414.9,712.4 L1413.9,717.7 L1412.9,720.8 L1411.9,719.7 L1410.9,723.9 L1409.9,729.6 L1408.9,729.4 L1407.9,731.4 L1406.9,740.6 L1405.9,742.9 L1404.9,746.4 L1403.9,752.9 L1402.9,751.2 L1401.9,756.2 L1400.9,759.6 L1399.9,767.0 L1398.9,767.1 L1397.9,770.0 L1396.9,770.6 L1395.9,777.0 L1394.9,774.3 L1393.9,778.7 L1392.9,788.0 L1391.9,785.7 L1390.9,786.2 L1389.9,789.2 L1388.9,790.1 L1387.9,792.8 L1386.9,792.4 L1385.9,793.2 L1384.9,799.4 L1383.9,797.6 L1382.9,798.0 L1381.9,800.2 L1380.9,800.6 L1379.9,801.7 L1378.9,799.9 L1377.9,798.0 L1376.9,801.6 L1375.9,802.0 L1374.9,803.6 L1373.9,799.7 L1372.9,802.9 L1371.9,798.7 L1370.9,801.7 L1369.9,802.3 L1368.9,804.7 L1367.9,799.6 L1366.9,801.9 L1365.9,802.0 L1364.9,798.0 L1363.9,795.5 L1362.9,799.3 L1361.9,799.7 L1360.9,799.9 L1359.9,797.4 L1358.9,794.6 L1357.9,797.9 L1356.9,801.5 L1355.9,798.1 L1354.9,797.5 L1353.9,797.9 L1352.9,799.0 L1351.9,799.7 L1350.9,796.9 L1349.9,797.8 L1348.9,800.0 L1347.9,799.8 L1346.9,800.4 L1345.9,802.6 L1344.9,800.8 L1343.9,801.6 L1342.9,805.2 L1341.9,808.6 L1340.9,805.2 L1339.9,807.5 L1338.9,804.5 L1337.9,811.8 L1336.9,812.0 L1335.9,814.6 L1334.9,814.8 L1333.9,821.4 L1332.9,820.9 L1331.9,823.5 L1330.9,827.9 L1329.9,824.6 L1328.9,834.8 L1327.9,833.8 L1326.9,836.4 L1325.9,841.1 L1324.9,840.8 L1323.9,843.1 L1322.9,846.9 L1321.9,850.1 L1320.9,849.5 L1319.9,855.9 L1318.9,854.2 L1317.9,857.4 L1316.9,859.9 L1315.9,859.9 L1314.9,862.5 L1313.9,861.4 L1312.9,862.6 L1311.9,868.6 L1310.9,867.1 L1309.9,870.4 L1308.9,864.3 L1307.9,867.0 L1306.9,865.5 L1305.9,864.8 L1304.9,869.4 L1303.9,869.8 L1302.9,869.1 L1301.9,871.2 L1300.9,866.3 L1299.9,867.6 L1298.9,867.2 L1297.9,868.9 L1296.9,865.9 L1295.9,865.1 L1294.9,868.1 L1293.9,866.9 L1292.9,869.4 L1291.9,864.9 L1290.9,869.1 L1289.9,867.8 L1288.9,871.0 L1287.9,868.8 L1286.9,869.5 L1285.9,869.6 L1284.9,871.7 L1283.9,871.3 L1282.9,873.2 L1281.9,874.9 L1280.9,876.6 L1279.9,877.0 L1278.9,877.4 L1277.9,881.0 L1276.9,883.3 L1275.9,881.4 L1274.9,880.4 L1273.9,882.3 L1272.9,883.2 L1271.9,882.7 L1270.9,881.5 L1269.9,882.6 L1268.9,881.2 L1267.9,882.6 L1266.9,878.4 L1265.9,882.5 L1264.9,884.9 L1263.9,877.3 L1262.9,877.1 L1261.9,878.0 L1260.9,875.5 L1259.9,872.5 L1258.9,870.6 L1257.9,867.5 L1256.9,868.9 L1255.9,862.8 L1254.9,856.8 L1253.9,857.6 L1252.9,858.2 L1251.9,853.7 L1250.9,854.5 L1249.9,851.5 L1248.9,854.9 L1247.9,849.5 L1246.9,846.2 L1245.9,846.5 L1244.9,844.6 L1243.9,843.2 L1242.9,840.9 L1241.9,838.0 L1240.9,837.2 L1239.9,837.0 L1238.9,831.7 L1237.9,832.6 L1236.9,835.1 L1235.9,835.7 L1234.9,836.8 L1233.9,832.7 L1232.9,831.4 L1231.9,829.6 L1230.9,829.5 L1229.9,829.4 L1228.9,831.3 L1227.9,830.2 L1226.9,829.1 L1225.9,832.0 L1224.9,835.3 L1223.9,828.6 L1222.9,829.8 L1221.9,827.1 L1220.9,828.4 L1219.9,827.4 L1218.9,825.1 L1217.9,825.3 L1216.9,819.4 L1215.9,818.9 L1214.9,817.2 L1213.9,817.3 L1212.9,816.5 L1211.9,815.6 L1210.9,813.1 L1209.9,811.5 L1208.9,808.5 L1207.9,807.0 L1206.9,805.0 L1205.9,798.3 L1204.9,795.8 L1203.9,800.1 L1202.9,797.0 L1201.9,796.0 L1200.9,795.8 L1199.9,796.4 L1198.9,795.8 L1197.9,794.0 L1196.9,794.0 L1195.9,796.3 L1194.9,793.3 L1193.9,793.3 L1192.9,795.8 L1191.9,795.0 L1190.9,799.6 L1189.9,798.9 L1188.9,801.1 L1187.9,799.4 L1186.9,801.0 L1185.9,802.5 L1184.9,802.4 L1183.9,805.5 L1182.9,809.7 L1181.9,810.2 L1180.9,813.0 L1179.9,810.5 L1178.9,813.3 L1177.9,819.4 L1176.9,819.6 L1175.9,822.0 L1174.9,824.9 L1173.9,824.5 L1172.9,827.9 L1171.9,828.8 L1170.9,831.3 L1169.9,830.0 L1168.9,833.3 L1167.9,833.9 L1166.9,839.3 L1165.9,839.7 L1164.9,838.8 L1163.9,836.2 L1162.9,837.1 L1161.9,839.1 L1160.9,841.2 L1159.9,838.2 L1158.9,838.5 L1157.9,832.1 L1156.9,837.2 L1155.9,834.9 L1154.9,837.1 L1153.9,833.9 L1152.9,834.1 L1151.9,834.0 L1150.9,830.8 L1149.9,828.3 L1148.9,827.0 L1147.9,821.7 L1146.9,823.9 L1145.9,820.8 L1144.9,820.9 L1143.9,817.4 L1142.9,818.3 L1141.9,814.1 L1140.9,813.5 L1139.9,808.4 L1138.9,805.6 L1137.9,803.5 L1136.9,796.8 L1135.9,800.4 L1134.9,799.2 L1133.9,795.2 L1132.9,788.9 L1131.9,790.0 L1130.9,786.5 L1129.9,784.5 L1128.9,777.9 L1127.9,775.4 L1126.9,772.7 L1125.9,771.6 L1124.9,764.3 L1123.9,759.1 L1122.9,759.4 L1121.9,755.1 L1120.9,755.2 L1119.9,746.9 L1118.9,747.3 L1117.9,746.6 L1116.9,741.6 L1115.9,736.4 L1114.9,737.9 L1113.9,736.5 L1112.9,732.2 L1111.9,727.8 L1110.9,727.6 L1109.9,725.7 L1108.9,723.8 L1107.9,725.1 L1106.9,719.6 L1105.9,717.3 L1104.9,715.4 L1103.9,713.5 L1102.9,708.8 L1101.9,709.0 L1100.9,711.1 L1099.9,707.0 L1098.9,704.7 L1097.9,702.2 L1096.9,703.9 L1095.9,700.3 L1094.9,700.8 L1093.9,695.8 L1092.9,694.0 L1091.9,692.8 L1090.9,696.7 L1089.9,690.6 L1088.9,691.9 L1087.9,690.7 L1086.9,683.7 L1085.9,686.8 L1084.9,684.4 L1083.9,681.8 L1082.9,676.2 L1081.9,679.8 L1080.9,675.4 L1079.9,674.1 L1078.9,671.3 L1077.9,670.4 L1076.9,665.4 L1075.9,660.8 L1074.9,662.0 L1073.9,657.8 L1072.9,654.6 L1071.9,651.1 L1070.9,650.5 L1069.9,641.9 L1068.9,644.5 L1067.9,638.6 L1066.9,637.0 L1065.9,634.7 L1064.9,633.1 L1063.9,628.4 L1062.9,626.8 L1061.9,627.8 L1060.9,619.5 L1059.9,621.0 L1058.9,620.1 L1057.9,620.3 L1056.9,611.9 L1055.9,616.9 L1054.9,613.4 L1053.9,611.1 L1052.9,609.0 L1051.9,609.7 L1050.9,607.9 L1049.9,608.0 L1048.9,602.4 L1047.9,604.4 L1046.9,602.1 L1045.9,604.2 L1044.9,602.6 L1043.9,600.9 L1042.9,601.1 L1041.9,600.1 L1040.9,598.9 L1039.9,600.4 L1038.9,600.3 L1037.9,597.3 L1036.9,598.9 L1035.9,600.2 L1034.9,598.8 L1033.9,598.5 L1032.9,596.5 L1031.9,593.8 L1030.9,597.5 L1029.9,596.0 L1028.9,593.0 L1027.9,590.9 L1026.9,592.3 L1025.9,592.5 L1024.9,592.2 L1023.9,592.5 L1022.9,590.0 L1021.9,587.6 L1020.9,592.0 L1019.9,586.1 L1018.9,588.9 L1017.9,587.8 L1016.9,589.7 L1015.9,586.0 L1014.9,588.3 L1013.9,585.9 L1012.9,587.3 L1011.9,585.1 L1010.9,587.0 L1009.9,586.7 L1008.9,588.2 L1007.9,586.9 L1006.9,591.0 L1005.9,584.9 L1004.9,589.2 L1003.9,590.2 L1002.9,593.7 L1001.9,591.9 L1000.9,597.4 L999.9,595.8 L998.9,602.1 L997.9,602.5 L996.9,602.2 L995.9,606.8 L994.9,608.7 L993.9,613.0 L992.9,615.8 L991.9,616.2 L990.9,624.0 L989.9,621.8 L988.9,625.5 L987.9,632.9 L986.9,636.7 L985.9,638.0 L984.9,640.0 L983.9,646.1 L982.9,650.5 L981.9,654.3 L980.9,654.4 L979.9,659.0 L978.9,665.0 L977.9,663.3 L976.9,671.3 L975.9,675.7 L974.9,677.9 L973.9,681.0 L972.9,686.1 L971.9,683.3 L970.9,687.3 L969.9,683.1 L968.9,691.5 L967.9,695.3 L966.9,696.5 L965.9,701.0 L964.9,700.4 L963.9,704.2 L962.9,704.1 L961.9,706.4 L960.9,708.3 L959.9,707.3 L958.9,707.2 L957.9,709.8 L956.9,709.5 L955.9,710.1 L954.9,709.5 L953.9,711.0 L952.9,707.1 L951.9,711.5 L950.9,712.8 L949.9,711.3 L948.9,711.0 L947.9,706.9 L946.9,708.1 L945.9,709.8 L944.9,714.8 L943.9,706.5 L942.9,708.3 L941.9,705.6 L940.9,708.3 L939.9,704.7 L938.9,708.8 L937.9,702.7 L936.9,706.2 L935.9,704.2 L934.9,705.0 L933.9,702.9 L932.9,703.1 L931.9,705.5 L930.9,702.9 L929.9,701.3 L928.9,702.3 L927.9,702.9 L926.9,703.5 L925.9,705.8 L924.9,704.1 L923.9,706.4 L922.9,705.8 L921.9,705.4 L920.9,706.3 L919.9,710.7 L918.9,705.2 L917.9,705.2 L916.9,709.8 L915.9,709.0 L914.9,715.5 L913.9,717.9 L912.9,719.4 L911.9,715.8 L910.9,722.0 L909.9,720.8 L908.9,723.2 L907.9,727.7 L906.9,730.9 L905.9,732.9 L904.9,739.6 L903.9,738.9 L902.9,741.0 L901.9,741.2 L900.9,747.9 L899.9,746.5 L898.9,747.9 L897.9,756.3 L896.9,756.3 L895.9,756.4 L894.9,763.6 L893.9,762.9 L892.9,763.4 L891.9,767.0 L890.9,765.5 L889.9,767.2 L888.9,766.0 L887.9,767.1 L886.9,768.8 L885.9,771.8 L884.9,774.8 L883.9,771.2 L882.9,774.5 L881.9,774.0 L880.9,771.3 L879.9,773.4 L878.9,772.6 L877.9,774.3 L876.9,777.4 L875.9,772.6 L874.9,771.3 L873.9,776.3 L872.9,776.1 L871.9,773.1 L870.9,773.2 L869.9,771.6 L868.9,769.2 L867.9,771.7 L866.9,769.5 L865.9,770.0 L864.9,774.8 L863.9,774.1 L862.9,777.9 L861.9,778.6 L860.9,774.6 L859.9,775.8 L858.9,777.7 L857.9,779.0 L856.9,777.2 L855.9,780.0 L854.9,776.5 L853.9,783.1 L852.9,781.1 L851.9,784.6 L850.9,784.2 L849.9,785.0 L848.9,782.8 L847.9,786.8 L846.9,785.8 L845.9,787.5 L844.9,785.2 L843.9,786.8 L842.9,786.2 L841.9,787.0 L840.9,781.8 L839.9,781.2 L838.9,782.5 L837.9,779.2 L836.9,776.8 L835.9,778.3 L834.9,774.7 L833.9,770.3 L832.9,773.2 L831.9,769.0 L830.9,764.9 L829.9,760.6 L828.9,764.2 L827.9,760.8 L826.9,758.5 L825.9,754.0 L824.9,757.7 L823.9,749.5 L822.9,747.1 L821.9,751.8 L820.9,744.4 L819.9,750.4 L818.9,746.7 L817.9,745.8 L816.9,740.7 L815.9,740.2 L814.9,740.6 L813.9,744.6 L812.9,736.7 L811.9,744.7 L810.9,737.9 L809.9,736.0 L808.9,740.4 L807.9,740.1 L806.9,739.5 L805.9,736.6 L804.9,739.9 L803.9,736.9 L802.9,735.7 L801.9,735.4 L800.9,732.7 L799.9,734.4 L798.9,734.9 L797.9,733.0 L796.9,732.6 L795.9,734.8 L794.9,730.5 L793.9,729.5 L792.9,728.6 L791.9,729.1 L790.9,725.7 L789.9,725.9 L788.9,722.7 L787.9,723.1 L786.9,720.7 L785.9,716.0 L784.9,711.4 L783.9,711.4 L782.9,710.9 L781.9,708.4 L780.9,705.1 L779.9,703.4 L778.9,700.9 L777.9,698.6 L776.9,699.0 L775.9,699.3 L774.9,697.5 L773.9,693.8 L772.9,697.1 L771.9,693.3 L770.9,695.1 L769.9,695.9 L768.9,696.1 L767.9,695.6 L766.9,697.1 L765.9,693.9 L764.9,696.6 L763.9,695.7 L762.9,695.2 L761.9,703.7 L760.9,702.6 L759.9,703.2 L758.9,707.3 L757.9,712.8 L756.9,711.5 L755.9,712.6 L754.9,717.2 L753.9,716.9 L752.9,719.9 L751.9,723.5 L750.9,720.8 L749.9,723.7 L748.9,726.3 L747.9,729.3 L746.9,732.3 L745.9,732.2 L744.9,734.0 L743.9,737.8 L742.9,737.7 L741.9,740.8 L740.9,739.2 L739.9,737.8 L738.9,739.0 L737.9,737.9 L736.9,737.8 L735.9,739.7 L734.9,738.7 L733.9,739.3 L732.9,742.2 L731.9,733.7 L730.9,737.9 L729.9,733.4 L728.9,732.6 L727.9,732.9 L726.9,732.6 L725.9,731.8 L724.9,728.8 L723.9,730.9 L722.9,728.0 L721.9,719.2 L720.9,721.2 L719.9,716.4 L718.9,716.5 L717.9,717.1 L716.9,713.3 L715.9,711.1 L714.9,704.3 L713.9,704.5 L712.9,702.4 L711.9,701.7 L710.9,701.0 L709.9,694.4 L708.9,690.0 L707.9,689.6 L706.9,685.9 L705.9,686.1 L704.9,683.3 L703.9,676.6 L702.9,677.0 L701.9,671.2 L700.9,670.9 L699.9,664.6 L698.9,662.6 L697.9,662.2 L696.9,655.8 L695.9,650.0 L694.9,648.7 L693.9,643.3 L692.9,640.4 L691.9,640.1 L690.9,637.6 L689.9,631.3 L688.9,632.0 L687.9,628.1 L686.9,627.9 L685.9,620.6 L684.9,623.1 L683.9,620.1 L682.9,619.3 L681.9,615.3 L680.9,616.9 L679.9,615.9 L678.9,613.6 L677.9,610.4 L676.9,611.2 L675.9,603.7 L674.9,599.9 L673.9,604.8 L672.9,600.7 L671.9,598.0 L670.9,598.6 L669.9,597.2 L668.9,592.6 L667.9,589.9 L666.9,589.3 L665.9,586.3 L664.9,585.8 L663.9,582.4 L662.9,578.8 L661.9,580.5 L660.9,576.0 L659.9,580.4 L658.9,577.7 L657.9,575.4 L656.9,568.3 L655.9,569.3 L654.9,569.4 L653.9,564.5 L652.9,564.6 L651.9,558.0 L650.9,553.4 L649.9,551.0 L648.9,550.0 L647.9,550.0 L646.9,545.4 L645.9,544.4 L644.9,541.8 L643.9,541.0 L642.9,534.9 L641.9,532.8 L640.9,528.8 L639.9,528.4 L638.9,528.8 L637.9,525.6 L636.9,523.8 L635.9,522.4 L634.9,521.5 L633.9,518.6 L632.9,519.0 L631.9,515.7 L630.9,514.3 L629.9,510.4 L628.9,514.5 L627.9,511.8 L626.9,506.9 L625.9,509.4 L624.9,503.0 L623.9,507.0 L622.9,507.4 L621.9,501.5 L620.9,505.1 L619.9,503.3 L618.9,500.9 L617.9,501.6 L616.9,498.7 L615.9,500.7 L614.9,497.6 L613.9,495.1 L612.9,497.8 L611.9,496.9 L610.9,497.5 L609.9,497.8 L608.9,500.8 L607.9,492.9 L606.9,494.6 L605.9,497.4 L604.9,491.2 L603.9,496.9 L602.9,493.8 L601.9,493.7 L600.9,491.7 L599.9,493.5 L598.9,492.5 L597.9,492.4 L596.9,491.2 L595.9,492.6 L594.9,485.1 L593.9,491.1 L592.9,489.8 L591.9,489.3 L590.9,489.6 L589.9,491.4 L588.9,489.9 L587.9,488.8 L586.9,490.4 L585.9,493.5 L584.9,492.6 L583.9,489.5 L582.9,491.1 L581.9,493.9 L580.9,495.0 L579.9,494.8 L578.9,496.7 L577.9,498.9 L576.9,502.6 L575.9,503.0 L574.9,503.6 L573.9,509.7 L572.9,509.0 L571.9,514.3 L570.9,518.6 L569.9,515.9 L568.9,525.7 L567.9,530.1 L566.9,531.9 L565.9,534.4 L564.9,541.2 L563.9,547.6 L562.9,548.1 L561.9,555.4 L560.9,557.2 L559.9,556.9 L558.9,565.1 L557.9,565.6 L556.9,570.1 L555.9,573.9 L554.9,575.3 L553.9,581.4 L552.9,585.5 L551.9,586.6 L550.9,587.0 L549.9,592.2 L548.9,592.3 L547.9,598.0 L546.9,599.4 L545.9,602.3 L544.9,603.3 L543.9,605.5 L542.9,606.2 L541.9,602.9 L540.9,612.7 L539.9,610.6 L538.9,610.9 L537.9,613.6 L536.9,609.7 L535.9,612.2 L534.9,612.9 L533.9,617.5 L532.9,612.1 L531.9,613.9 L530.9,617.5 L529.9,618.1 L528.9,618.9 L527.9,615.9 L526.9,614.3 L525.9,618.6 L524.9,618.4 L523.9,622.0 L522.9,616.8 L521.9,619.1 L520.9,617.8 L519.9,615.7 L518.9,617.0 L517.9,615.2 L516.9,615.1 L515.9,614.8 L514.9,614.2 L513.9,615.0 L512.9,614.8 L511.9,614.8 L510.9,613.3 L509.9,614.5 L508.9,613.5 L507.9,612.0 L506.9,612.8 L505.9,615.2 L504.9,606.6 L503.9,617.0 L502.9,614.4 L501.9,615.5 L500.9,610.4 L499.9,615.4 L498.9,620.4 L497.9,617.1 L496.9,617.0 L495.9,617.1 L494.9,618.5 L493.9,619.9 L492.9,618.6 L491.9,622.8 L490.9,626.3 L489.9,630.9 L488.9,628.3 L487.9,634.7 L486.9,634.1 L485.9,636.4 L484.9,641.7 L483.9,643.0 L482.9,647.0 L481.9,651.5 L480.9,654.1 L479.9,653.7 L478.9,657.5 L477.9,660.9 L476.9,658.6 L475.9,660.7 L474.9,665.0 L473.9,671.6 L472.9,669.6 L471.9,671.1 L470.9,673.8 L469.9,674.0 L468.9,679.2 L467.9,678.8 L466.9,679.4 L465.9,678.9 L464.9,684.5 L463.9,685.0 L462.9,681.8 L461.9,684.9 L460.9,688.0 L459.9,685.7 L458.9,687.8 L457.9,687.3 L456.9,687.9 L455.9,688.3 L454.9,686.2 L453.9,688.1 L452.9,684.7 L451.9,690.3 L450.9,687.1 L449.9,687.0 L448.9,689.2 L447.9,686.9 L446.9,687.4 L445.9,686.5 L444.9,687.0 L443.9,689.6 L442.9,693.4 L441.9,691.8 L440.9,691.6 L439.9,692.0 L438.9,691.4 L437.9,695.6 L436.9,697.7 L435.9,697.9 L434.9,699.2 L433.9,702.7 L432.9,701.6 L431.9,705.2 L430.9,705.8 L429.9,707.1 L428.9,710.1 L427.9,710.7 L426.9,713.6 L425.9,713.2 L424.9,715.3 L423.9,714.1 L422.9,715.7 L421.9,719.4 L420.9,718.2 L419.9,717.0 L418.9,720.1 L417.9,718.5 L416.9,723.3 L415.9,722.6 L414.9,718.7 L413.9,717.9 L412.9,721.3 L411.9,722.7 L410.9,719.0 L409.9,723.9 L408.9,719.5 L407.9,717.6 L406.9,715.3 L405.9,715.4 L404.9,716.7 L403.9,717.3 L402.9,716.8 L401.9,711.1 L400.9,714.2 L399.9,711.7 L398.9,715.9 L397.9,711.4 L396.9,711.2 L395.9,711.3 L394.9,710.2 L393.9,711.7 L392.9,709.7 L391.9,708.0 L390.9,703.7 L389.9,707.5 L388.9,708.0 L387.9,711.4 L386.9,708.8 L385.9,712.1 L384.9,713.0 L383.9,714.0 L382.9,715.4 L381.9,717.1 L380.9,718.4 L379.9,714.3 L378.9,721.4 L377.9,724.3 L376.9,723.9 L375.9,721.8 L374.9,722.1 L373.9,726.7 L372.9,726.8 L371.9,725.1 L370.9,726.7 L369.9,727.3 L368.9,724.5 L367.9,727.9 L366.9,725.6 L365.9,726.3 L364.9,727.1 L363.9,728.5 L362.9,728.9 L361.9,727.2 L360.9,725.1 L359.9,722.6 L358.9,721.6 L357.9,721.9 L356.9,718.1 L355.9,720.9 L354.9,719.7 L353.9,716.4 L352.9,717.0 L351.9,720.4 L350.9,716.2 L349.9,718.8 L348.9,717.9 L347.9,718.5 L346.9,722.4 L345.9,725.0 L344.9,722.6 L343.9,721.9 L342.9,724.2 L341.9,727.3 L340.9,733.2 L339.9,733.9 L338.9,735.3 L337.9,735.6 L336.9,741.6 L335.9,745.4 L334.9,747.8 L333.9,753.5 L332.9,755.2 L331.9,757.3 L330.9,760.3 L329.9,762.2 L328.9,765.0 L327.9,773.6 L326.9,771.0 L325.9,778.4 L324.9,781.6 L323.9,783.6 L322.9,784.0 L321.9,791.4 L320.9,792.4 L319.9,794.6 L318.9,794.6 L317.9,802.2 L316.9,803.4 L315.9,800.9 L314.9,808.1 L313.9,810.0 L312.9,809.4 L311.9,809.9 L310.9,811.2 L309.9,812.5 L308.9,814.7 L307.9,818.5 L306.9,817.2 L305.9,814.8 L304.9,817.0 L303.9,817.1 L302.9,817.1 L301.9,816.5 L300.9,816.9 L299.9,817.9 L298.9,814.3 L297.9,811.6 L296.9,815.5 L295.9,814.8 L294.9,814.0 L293.9,811.1 L292.9,812.1 L291.9,806.7 L290.9,803.8 L289.9,804.9 L288.9,801.9 L287.9,801.7 L286.9,796.3 L285.9,791.3 L284.9,785.9 L283.9,791.1 L282.9,781.5 L281.9,780.8 L280.9,778.6 L279.9,777.0 L278.9,775.5 L277.9,767.6 L276.9,765.9 L275.9,760.5 L274.9,758.6 L273.9,757.1 L272.9,753.9 L271.9,754.3 L270.9,748.7 L269.9,748.6 L268.9,745.7 L267.9,743.6 L266.9,739.4 L265.9,734.9 L264.9,738.0 L263.9,735.2 L262.9,733.3 L261.9,728.7 L260.9,729.7Z" fill="#8ecae6" fill-opacity="0.165"/>
<!-- forecast -->
<path d="M260.9,694.1 L261.9,695.9 L262.9,697.6 L263.9,699.3 L264.9,701.0 L265.9,702.9 L266.9,704.8 L267.9,707.0 L268.9,709.4 L269.9,712.0 L270.9,714.9 L271.9,717.8 L272.9,720.8 L273.9,723.8 L274.9,726.7 L275.9,729.7 L276.9,732.7 L277.9,735.9 L278.9,739.1 L279.9,742.2 L280.9,745.3 L281.9,748.0 L282.9,750.5 L283.9,752.9 L284.9,755.3 L285.9,757.8 L286.9,760.3 L287.9,762.8 L288.9,765.2 L289.9,767.6 L290.9,770.0 L291.9,772.2 L292.9,774.1 L293.9,775.7 L294.9,777.0 L295.9,777.9 L296.9,778.8 L297.9,779.6 L298.9,780.3 L299.9,780.9 L300.9,781.3 L301.9,781.5 L302.9,781.5 L303.9,781.5 L304.9,781.3 L305.9,781.0 L306.9,780.5 L307.9,779.9 L308.9,779.1 L309.9,778.1 L310.9,777.0 L311.9,775.7 L312.9,774.4 L313.9,773.1 L314.9,771.7 L315.9,770.2 L316.9,768.3 L317.9,765.9 L318.9,763.1 L319.9,760.0 L320.9,757.0 L321.9,754.0 L322.9,751.0 L323.9,747.9 L324.9,744.9 L325.9,741.7 L326.9,738.4 L327.9,735.0 L328.9,731.7 L329.9,728.5 L330.9,725.4 L331.9,722.4 L332.9,719.4 L333.9,716.3 L334.9,713.2 L335.9,710.2 L336.9,707.2 L337.9,704.2 L338.9,701.4 L339.9,698.6 L340.9,695.9 L341.9,693.4 L342.9,691.2 L343.9,689.2 L344.9,687.6 L345.9,686.3 L346.9,685.4 L347.9,684.6 L348.9,684.1 L349.9,683.8 L350.9,683.7 L351.9,683.7 L352.9,683.8 L353.9,684.1 L354.9,684.4 L355.9,684.8 L356.9,685.2 L357.9,685.7 L358.9,686.2 L359.9,686.9 L360.9,687.5 L361.9,688.1 L362.9,688.6 L363.9,689.0 L364.9,689.4 L365.9,690.0 L366.9,690.6 L367.9,691.2 L368.9,691.4 L369.9,691.1 L370.9,690.5 L371.9,689.7 L372.9,689.0 L373.9,688.4 L374.9,687.9 L375.9,687.3 L376.9,686.6 L377.9,685.6 L378.9,684.3 L379.9,682.9 L380.9,681.6 L381.9,680.5 L382.9,679.5 L383.9,678.7 L384.9,677.9 L385.9,677.0 L386.9,676.0 L387.9,675.2 L388.9,674.4 L389.9,673.9 L390.9,673.6 L391.9,673.5 L392.9,673.7 L393.9,674.1 L394.9,674.8 L395.9,675.5 L396.9,676.1 L397.9,676.4 L398.9,676.5 L399.9,676.7 L400.9,677.3 L401.9,678.3 L402.9,679.5 L403.9,680.8 L404.9,681.9 L405.9,682.6 L406.9,683.0 L407.9,683.4 L408.9,683.9 L409.9,684.5 L410.9,685.2 L411.9,685.7 L412.9,686.1 L413.9,686.4 L414.9,686.5 L415.9,686.4 L416.9,686.2 L417.9,685.7 L418.9,685.1 L419.9,684.4 L420.9,683.6 L421.9,682.8 L422.9,682.0 L423.9,681.0 L424.9,679.9 L425.9,678.7 L426.9,677.4 L427.9,676.0 L428.9,674.4 L429.9,672.6 L430.9,670.6 L431.9,668.6 L432.9,666.6 L433.9,664.9 L434.9,663.5 L435.9,662.2 L436.9,660.9 L437.9,659.6 L438.9,658.2 L439.9,657.0 L440.9,656.0 L441.9,655.4 L442.9,655.0 L443.9,654.6 L444.9,654.1 L445.9,653.4 L446.9,652.6 L447.9,651.9 L448.9,651.5 L449.9,651.6 L450.9,652.0 L451.9,652.6 L452.9,653.0 L453.9,653.3 L454.9,653.4 L455.9,653.3 L456.9,653.2 L457.9,653.2 L458.9,653.1 L459.9,652.8 L460.9,652.2 L461.9,651.4 L462.9,650.4 L463.9,649.3 L464.9,648.3 L465.9,647.3 L466.9,646.4 L467.9,645.3 L468.9,643.8 L469.9,642.0 L470.9,639.9 L471.9,637.7 L472.9,635.5 L473.9,633.4 L474.9,631.4 L475.9,629.5 L476.9,627.5 L477.9,625.4 L478.9,623.2 L479.9,620.9 L480.9,618.5 L481.9,616.0 L482.9,613.3 L483.9,609.9 L484.9,606.1 L485.9,602.2 L486.9,598.9 L487.9,596.4 L488.9,594.3 L489.9,592.4 L490.9,590.7 L491.9,589.2 L492.9,587.7 L493.9,586.2 L494.9,584.8 L495.9,583.5 L496.9,582.4 L497.9,581.6 L498.9,581.0 L499.9,580.6 L500.9,580.1 L501.9,579.6 L502.9,579.0 L503.9,578.5 L504.9,578.1 L505.9,578.0 L506.9,578.0 L507.9,578.2 L508.9,578.4 L509.9,578.5 L510.9,578.7 L511.9,578.9 L512.9,579.1 L513.9,579.3 L514.9,579.5 L515.9,579.7 L516.9,579.9 L517.9,580.2 L518.9,580.5 L519.9,580.8 L520.9,581.2 L521.9,581.6 L522.9,581.9 L523.9,582.1 L524.9,582.2 L525.9,582.2 L526.9,582.1 L527.9,581.9 L528.9,581.7 L529.9,581.5 L530.9,581.1 L531.9,580.8 L532.9,580.4 L533.9,579.9 L534.9,579.4 L535.9,578.8 L536.9,578.2 L537.9,577.4 L538.9,576.5 L539.9,575.5 L540.9,574.3 L541.9,573.0 L542.9,571.5 L543.9,569.9 L544.9,568.1 L545.9,566.1 L546.9,563.9 L547.9,561.5 L548.9,559.1 L549.9,556.5 L550.9,553.8 L551.9,551.0 L552.9,548.0 L553.9,544.9 L554.9,541.6 L555.9,538.3 L556.9,534.8 L557.9,531.3 L558.9,527.6 L559.9,523.8 L560.9,519.9 L561.9,515.9 L562.9,512.0 L563.9,508.2 L564.9,504.3 L565.9,500.4 L566.9,496.5 L567.9,492.7 L568.9,489.1 L569.9,485.6 L570.9,482.5 L571.9,479.4 L572.9,476.4 L573.9,473.3 L574.9,470.3 L575.9,467.4 L576.9,465.0 L577.9,462.9 L578.9,461.2 L579.9,459.8 L580.9,458.8 L581.9,458.0 L582.9,457.6 L583.9,457.3 L584.9,456.9 L585.9,456.3 L586.9,455.6 L587.9,455.0 L588.9,454.6 L589.9,454.4 L590.9,454.5 L591.9,454.8 L592.9,455.0 L593.9,455.2 L594.9,455.5 L595.9,455.8 L596.9,456.0 L597.9,456.2 L598.9,456.3 L599.9,456.5 L600.9,457.0 L601.9,457.8 L602.9,458.8 L603.9,459.9 L604.9,460.8 L605.9,461.4 L606.9,461.8 L607.9,462.1 L608.9,462.4 L609.9,462.6 L610.9,462.8 L611.9,462.9 L612.9,463.1 L613.9,463.5 L614.9,464.0 L615.9,464.6 L616.9,465.1 L617.9,465.6 L618.9,466.1 L619.9,466.6 L620.9,467.2 L621.9,467.7 L622.9,468.3 L623.9,469.0 L624.9,469.8 L625.9,470.8 L626.9,472.0 L627.9,473.4 L628.9,474.8 L629.9,476.3 L630.9,477.8 L631.9,479.5 L632.9,481.2 L633.9,483.0 L634.9,484.9 L635.9,486.9 L636.9,488.8 L637.9,490.9 L638.9,493.0 L639.9,495.2 L640.9,497.5 L641.9,499.7 L642.9,502.0 L643.9,504.3 L644.9,506.8 L645.9,509.4 L646.9,512.2 L647.9,514.9 L648.9,517.5 L649.9,519.8 L650.9,521.9 L651.9,524.0 L652.9,526.2 L653.9,528.6 L654.9,531.1 L655.9,533.6 L656.9,535.9 L657.9,538.1 L658.9,540.1 L659.9,541.9 L660.9,543.6 L661.9,545.2 L662.9,546.7 L663.9,548.2 L664.9,549.8 L665.9,551.5 L666.9,553.2 L667.9,555.0 L668.9,557.0 L669.9,559.1 L670.9,561.2 L671.9,563.5 L672.9,565.6 L673.9,567.8 L674.9,569.9 L675.9,571.9 L676.9,573.8 L677.9,575.5 L678.9,577.1 L679.9,578.5 L680.9,580.0 L681.9,581.6 L682.9,583.3 L683.9,585.1 L684.9,586.9 L685.9,588.7 L686.9,590.5 L687.9,592.4 L688.9,594.7 L689.9,597.2 L690.9,600.1 L691.9,603.0 L692.9,606.0 L693.9,609.1 L694.9,612.6 L695.9,616.1 L696.9,619.6 L697.9,623.0 L698.9,626.3 L699.9,629.5 L700.9,632.8 L701.9,635.9 L702.9,638.8 L703.9,641.7 L704.9,644.8 L705.9,648.1 L706.9,651.5 L707.9,654.9 L708.9,658.0 L709.9,661.0 L710.9,663.9 L711.9,666.6 L712.9,669.2 L713.9,671.6 L714.9,673.9 L715.9,676.0 L716.9,678.0 L717.9,680.0 L718.9,681.9 L719.9,683.8 L720.9,685.6 L721.9,687.5 L722.9,689.3 L723.9,691.1 L724.9,692.7 L725.9,694.2 L726.9,695.6 L727.9,696.9 L728.9,698.1 L729.9,699.4 L730.9,700.7 L731.9,701.8 L732.9,702.8 L733.9,703.4 L734.9,703.7 L735.9,703.8 L736.9,703.9 L737.9,703.8 L738.9,703.6 L739.9,703.2 L740.9,702.6 L741.9,702.0 L742.9,701.4 L743.9,700.6 L744.9,699.5 L745.9,698.2 L746.9,696.5 L747.9,694.6 L748.9,692.8 L749.9,691.1 L750.9,689.5 L751.9,687.8 L752.9,685.9 L753.9,683.6 L754.9,681.0 L755.9,678.2 L756.9,675.6 L757.9,673.2 L758.9,671.0 L759.9,669.0 L760.9,667.2 L761.9,665.5 L762.9,664.0 L763.9,662.8 L764.9,661.8 L765.9,661.0 L766.9,660.5 L767.9,660.2 L768.9,660.1 L769.9,660.1 L770.9,660.1 L771.9,660.2 L772.9,660.4 L773.9,660.9 L774.9,661.5 L775.9,662.4 L776.9,663.6 L777.9,664.9 L778.9,666.5 L779.9,668.2 L780.9,670.1 L781.9,672.1 L782.9,674.3 L783.9,676.5 L784.9,678.8 L785.9,681.0 L786.9,683.0 L787.9,684.9 L788.9,686.7 L789.9,688.3 L790.9,689.7 L791.9,691.1 L792.9,692.4 L793.9,693.7 L794.9,695.0 L795.9,696.1 L796.9,697.1 L797.9,697.9 L798.9,698.4 L799.9,698.9 L800.9,699.4 L801.9,700.0 L802.9,700.6 L803.9,701.3 L804.9,701.8 L805.9,702.1 L806.9,702.3 L807.9,702.5 L808.9,702.8 L809.9,703.1 L810.9,703.5 L811.9,704.1 L812.9,704.6 L813.9,705.3 L814.9,706.0 L815.9,706.9 L816.9,707.8 L817.9,708.9 L818.9,710.1 L819.9,711.4 L820.9,712.8 L821.9,714.4 L822.9,716.0 L823.9,717.7 L824.9,719.4 L825.9,721.1 L826.9,722.8 L827.9,724.6 L828.9,726.6 L829.9,728.7 L830.9,730.8 L831.9,732.9 L832.9,734.8 L833.9,736.6 L834.9,738.3 L835.9,740.0 L836.9,741.8 L837.9,743.8 L838.9,745.8 L839.9,747.6 L840.9,749.1 L841.9,750.2 L842.9,750.9 L843.9,751.5 L844.9,751.8 L845.9,751.9 L846.9,751.7 L847.9,751.4 L848.9,751.0 L849.9,750.5 L850.9,749.8 L851.9,749.0 L852.9,747.9 L853.9,746.6 L854.9,745.2 L855.9,743.8 L856.9,742.6 L857.9,741.6 L858.9,740.9 L859.9,740.2 L860.9,739.4 L861.9,738.7 L862.9,737.9 L863.9,737.2 L864.9,736.7 L865.9,736.5 L866.9,736.6 L867.9,736.9 L868.9,737.1 L869.9,737.1 L870.9,737.0 L871.9,736.8 L872.9,736.7 L873.9,736.7 L874.9,736.8 L875.9,736.9 L876.9,736.9 L877.9,736.8 L878.9,736.6 L879.9,736.4 L880.9,736.3 L881.9,736.5 L882.9,736.7 L883.9,736.9 L884.9,736.7 L885.9,736.2 L886.9,735.3 L887.9,734.2 L888.9,733.0 L889.9,731.7 L890.9,730.2 L891.9,728.7 L892.9,727.1 L893.9,725.7 L894.9,724.2 L895.9,722.7 L896.9,720.8 L897.9,718.4 L898.9,715.6 L899.9,712.7 L900.9,710.1 L901.9,707.8 L902.9,705.9 L903.9,704.1 L904.9,701.9 L905.9,699.2 L906.9,696.2 L907.9,693.2 L908.9,690.4 L909.9,688.0 L910.9,685.8 L911.9,683.8 L912.9,682.0 L913.9,680.3 L914.9,678.7 L915.9,677.3 L916.9,675.9 L917.9,674.5 L918.9,673.2 L919.9,672.0 L920.9,671.0 L921.9,670.3 L922.9,669.9 L923.9,669.5 L924.9,669.1 L925.9,668.5 L926.9,667.9 L927.9,667.4 L928.9,667.2 L929.9,667.3 L930.9,667.7 L931.9,668.1 L932.9,668.4 L933.9,668.5 L934.9,668.3 L935.9,668.2 L936.9,668.3 L937.9,668.7 L938.9,669.4 L939.9,670.2 L940.9,671.0 L941.9,671.8 L942.9,672.6 L943.9,673.4 L944.9,674.0 L945.9,674.5 L946.9,674.8 L947.9,675.1 L948.9,675.2 L949.9,675.2 L950.9,674.9 L951.9,674.6 L952.9,674.3 L953.9,674.0 L954.9,673.7 L955.9,673.4 L956.9,673.1 L957.9,672.9 L958.9,672.6 L959.9,672.2 L960.9,671.4 L961.9,670.4 L962.9,669.0 L963.9,667.4 L964.9,665.6 L965.9,663.5 L966.9,661.2 L967.9,658.8 L968.9,656.3 L969.9,654.0 L970.9,651.5 L971.9,649.0 L972.9,646.3 L973.9,643.5 L974.9,640.5 L975.9,637.5 L976.9,634.3 L977.9,631.0 L978.9,627.4 L979.9,623.8 L980.9,620.2 L981.9,616.5 L982.9,613.0 L983.9,609.5 L984.9,606.1 L985.9,602.7 L986.9,599.3 L987.9,596.0 L988.9,592.6 L989.9,589.2 L990.9,585.9 L991.9,582.7 L992.9,579.6 L993.9,576.8 L994.9,574.2 L995.9,571.7 L996.9,569.3 L997.9,566.8 L998.9,564.4 L999.9,562.2 L1000.9,560.3 L1001.9,558.7 L1002.9,557.4 L1003.9,556.1 L1004.9,555.0 L1005.9,554.0 L1006.9,553.1 L1007.9,552.3 L1008.9,551.8 L1009.9,551.5 L1010.9,551.4 L1011.9,551.3 L1012.9,551.2 L1013.9,551.0 L1014.9,550.9 L1015.9,550.8 L1016.9,550.8 L1017.9,550.9 L1018.9,551.1 L1019.9,551.5 L1020.9,552.0 L1021.9,552.8 L1022.9,553.7 L1023.9,554.7 L1024.9,555.7 L1025.9,556.5 L1026.9,557.4 L1027.9,558.1 L1028.9,558.7 L1029.9,559.2 L1030.9,559.7 L1031.9,560.1 L1032.9,560.5 L1033.9,561.0 L1034.9,561.6 L1035.9,562.1 L1036.9,562.7 L1037.9,563.1 L1038.9,563.5 L1039.9,563.9 L1040.9,564.3 L1041.9,564.7 L1042.9,565.1 L1043.9,565.5 L1044.9,566.1 L1045.9,566.8 L1046.9,567.7 L1047.9,568.7 L1048.9,569.7 L1049.9,570.7 L1050.9,571.7 L1051.9,572.8 L1052.9,574.0 L1053.9,575.2 L1054.9,576.6 L1055.9,578.0 L1056.9,579.5 L1057.9,581.1 L1058.9,582.7 L1059.9,584.5 L1060.9,586.4 L1061.9,588.5 L1062.9,590.7 L1063.9,593.1 L1064.9,595.7 L1065.9,598.4 L1066.9,601.2 L1067.9,604.0 L1068.9,606.8 L1069.9,609.5 L1070.9,612.3 L1071.9,615.1 L1072.9,617.9 L1073.9,620.6 L1074.9,623.2 L1075.9,625.9 L1076.9,628.5 L1077.9,631.3 L1078.9,634.2 L1079.9,637.1 L1080.9,639.8 L1081.9,642.1 L1082.9,644.3 L1083.9,646.2 L1084.9,648.1 L1085.9,650.0 L1086.9,651.8 L1087.9,653.6 L1088.9,655.3 L1089.9,657.0 L1090.9,658.7 L1091.9,660.2 L1092.9,661.6 L1093.9,662.8 L1094.9,663.8 L1095.9,664.8 L1096.9,665.9 L1097.9,667.1 L1098.9,668.4 L1099.9,669.9 L1100.9,671.6 L1101.9,673.7 L1102.9,676.1 L1103.9,678.5 L1104.9,680.8 L1105.9,682.8 L1106.9,684.6 L1107.9,686.5 L1108.9,688.4 L1109.9,690.5 L1110.9,692.7 L1111.9,694.8 L1112.9,696.8 L1113.9,698.7 L1114.9,700.7 L1115.9,702.8 L1116.9,705.2 L1117.9,707.9 L1118.9,710.9 L1119.9,714.1 L1120.9,717.3 L1121.9,720.5 L1122.9,723.7 L1123.9,726.8 L1124.9,729.9 L1125.9,732.9 L1126.9,735.8 L1127.9,738.7 L1128.9,741.9 L1129.9,745.3 L1130.9,748.7 L1131.9,752.1 L1132.9,755.3 L1133.9,758.1 L1134.9,760.6 L1135.9,763.1 L1136.9,765.6 L1137.9,768.0 L1138.9,770.5 L1139.9,773.0 L1140.9,775.4 L1141.9,777.7 L1142.9,779.9 L1143.9,782.1 L1144.9,784.2 L1145.9,786.3 L1146.9,788.3 L1147.9,790.3 L1148.9,792.1 L1149.9,793.8 L1150.9,795.3 L1151.9,796.6 L1152.9,797.9 L1153.9,799.1 L1154.9,800.1 L1155.9,801.1 L1156.9,801.8 L1157.9,802.1 L1158.9,802.2 L1159.9,802.2 L1160.9,802.1 L1161.9,802.1 L1162.9,802.1 L1163.9,801.9 L1164.9,801.5 L1165.9,800.7 L1166.9,799.6 L1167.9,798.4 L1168.9,797.1 L1169.9,795.9 L1170.9,794.7 L1171.9,793.4 L1172.9,791.9 L1173.9,790.3 L1174.9,788.7 L1175.9,786.8 L1176.9,784.8 L1177.9,782.6 L1178.9,780.3 L1179.9,778.0 L1180.9,775.9 L1181.9,774.1 L1182.9,772.4 L1183.9,770.7 L1184.9,769.1 L1185.9,767.4 L1186.9,765.8 L1187.9,764.3 L1188.9,763.0 L1189.9,762.0 L1190.9,761.2 L1191.9,760.4 L1192.9,759.7 L1193.9,759.0 L1194.9,758.4 L1195.9,758.0 L1196.9,757.9 L1197.9,758.1 L1198.9,758.6 L1199.9,759.4 L1200.9,760.2 L1201.9,761.2 L1202.9,762.3 L1203.9,763.6 L1204.9,765.1 L1205.9,767.0 L1206.9,769.2 L1207.9,771.5 L1208.9,773.6 L1209.9,775.5 L1210.9,777.1 L1211.9,778.6 L1212.9,780.1 L1213.9,781.6 L1214.9,783.0 L1215.9,784.3 L1216.9,785.6 L1217.9,786.9 L1218.9,788.1 L1219.9,789.2 L1220.9,790.3 L1221.9,791.1 L1222.9,791.9 L1223.9,792.7 L1224.9,793.3 L1225.9,794.0 L1226.9,794.5 L1227.9,794.9 L1228.9,795.2 L1229.9,795.4 L1230.9,795.6 L1231.9,795.9 L1232.9,796.4 L1233.9,796.8 L1234.9,797.3 L1235.9,797.8 L1236.9,798.3 L1237.9,798.9 L1238.9,799.5 L1239.9,800.3 L1240.9,801.3 L1241.9,802.5 L1242.9,803.8 L1243.9,805.2 L1244.9,806.8 L1245.9,808.6 L1246.9,810.6 L1247.9,812.6 L1248.9,814.6 L1249.9,816.6 L1250.9,818.5 L1251.9,820.4 L1252.9,822.3 L1253.9,824.3 L1254.9,826.3 L1255.9,828.4 L1256.9,830.5 L1257.9,832.6 L1258.9,834.7 L1259.9,836.6 L1260.9,838.4 L1261.9,840.1 L1262.9,841.5 L1263.9,842.9 L1264.9,844.1 L1265.9,845.2 L1266.9,846.2 L1267.9,846.9 L1268.9,847.4 L1269.9,847.5 L1270.9,847.3 L1271.9,847.0 L1272.9,846.5 L1273.9,846.0 L1274.9,845.5 L1275.9,844.9 L1276.9,844.2 L1277.9,843.2 L1278.9,842.1 L1279.9,840.8 L1280.9,839.5 L1281.9,838.2 L1282.9,836.9 L1283.9,835.9 L1284.9,835.0 L1285.9,834.2 L1286.9,833.4 L1287.9,832.8 L1288.9,832.3 L1289.9,831.8 L1290.9,831.4 L1291.9,831.1 L1292.9,831.0 L1293.9,831.0 L1294.9,831.0 L1295.9,831.1 L1296.9,831.2 L1297.9,831.5 L1298.9,831.9 L1299.9,832.4 L1300.9,832.7 L1301.9,832.7 L1302.9,832.4 L1303.9,832.0 L1304.9,831.7 L1305.9,831.7 L1306.9,831.7 L1307.9,831.8 L1308.9,831.6 L1309.9,831.2 L1310.9,830.5 L1311.9,829.6 L1312.9,828.6 L1313.9,827.5 L1314.9,826.3 L1315.9,824.9 L1316.9,823.4 L1317.9,821.8 L1318.9,820.1 L1319.9,818.3 L1320.9,816.3 L1321.9,814.1 L1322.9,811.8 L1323.9,809.3 L1324.9,806.7 L1325.9,804.0 L1326.9,801.2 L1327.9,798.5 L1328.9,795.8 L1329.9,793.2 L1330.9,790.5 L1331.9,788.0 L1332.9,785.5 L1333.9,783.1 L1334.9,780.9 L1335.9,778.7 L1336.9,776.7 L1337.9,774.9 L1338.9,773.2 L1339.9,771.6 L1340.9,770.2 L1341.9,769.0 L1342.9,768.0 L1343.9,767.1 L1344.9,766.2 L1345.9,765.2 L1346.9,764.3 L1347.9,763.4 L1348.9,762.6 L1349.9,762.0 L1350.9,761.4 L1351.9,761.0 L1352.9,760.8 L1353.9,760.6 L1354.9,760.6 L1355.9,760.7 L1356.9,760.8 L1357.9,760.9 L1358.9,761.1 L1359.9,761.3 L1360.9,761.5 L1361.9,761.7 L1362.9,761.9 L1363.9,762.2 L1364.9,762.6 L1365.9,763.2 L1366.9,763.9 L1367.9,764.5 L1368.9,765.0 L1369.9,765.2 L1370.9,765.4 L1371.9,765.5 L1372.9,765.6 L1373.9,765.7 L1374.9,765.7 L1375.9,765.6 L1376.9,765.6 L1377.9,765.6 L1378.9,765.5 L1379.9,765.4 L1380.9,764.9 L1381.9,764.0 L1382.9,762.9 L1383.9,761.6 L1384.9,760.4 L1385.9,759.2 L1386.9,758.0 L1387.9,756.7 L1388.9,755.2 L1389.9,753.5 L1390.9,751.6 L1391.9,749.5 L1392.9,747.2 L1393.9,744.7 L1394.9,741.9 L1395.9,738.9 L1396.9,736.0 L1397.9,733.0 L1398.9,730.0 L1399.9,726.8 L1400.9,723.5 L1401.9,719.9 L1402.9,716.2 L1403.9,712.4 L1404.9,708.6 L1405.9,704.9 L1406.9,701.3 L1407.9,697.9 L1408.9,694.5 L1409.9,690.9 L1410.9,687.4 L1411.9,683.9 L1412.9,680.5 L1413.9,676.9 L1414.9,673.4 L1415.9,670.0 L1416.9,666.8 L1417.9,664.1 L1418.9,661.7 L1419.9,659.5 L1420.9,657.2 L1421.9,654.8 L1422.9,652.4 L1423.9,650.3 L1424.9,648.4 L1425.9,646.9 L1426.9,645.7 L1427.9,644.6 L1428.9,643.6 L1429.9,642.8 L1430.9,642.1 L1431.9,641.4 L1432.9,640.9 L1433.9,640.4 L1434.9,640.1 L1435.9,639.7 L1436.9,639.4 L1437.9,639.0 L1438.9,638.7 L1439.9,638.4 L1440.9,638.4 L1441.9,638.6 L1442.9,639.0 L1443.9,639.4 L1444.9,640.0 L1445.9,640.4 L1446.9,640.9 L1447.9,641.4 L1448.9,642.1 L1449.9,642.8 L1450.9,643.8 L1451.9,644.8 L1452.9,645.8 L1453.9,646.8 L1454.9,647.8 L1455.9,648.7 L1456.9,649.4 L1457.9,650.1 L1458.9,650.8 L1459.9,651.3 L1460.9,651.7 L1461.9,651.9 L1462.9,652.0 L1463.9,652.1 L1464.9,652.3 L1465.9,652.6 L1466.9,653.0 L1467.9,653.4 L1468.9,654.0 L1469.9,654.7 L1470.9,655.6 L1471.9,656.5 L1472.9,657.4 L1473.9,658.3 L1474.9,659.1 L1475.9,660.1 L1476.9,661.3 L1477.9,662.8 L1478.9,664.6 L1479.9,666.5 L1480.9,668.4 L1481.9,670.1 L1482.9,671.9 L1483.9,673.7 L1484.9,675.7 L1485.9,677.8 L1486.9,680.0 L1487.9,682.2 L1488.9,684.7 L1489.9,687.3 L1490.9,690.2 L1491.9,693.1 L1492.9,696.1 L1493.9,698.9 L1494.9,701.7 L1495.9,704.5 L1496.9,707.3 L1497.9,710.2 L1498.9,713.1 L1499.9,715.9 L1500.9,718.7 L1501.9,721.3 L1502.9,723.8 L1503.9,726.1 L1504.9,728.3 L1505.9,730.3 L1506.9,732.2 L1507.9,734.0 L1508.9,735.9 L1509.9,737.8 L1510.9,739.7 L1511.9,741.5 L1512.9,743.3 L1513.9,745.1 L1514.9,746.8 L1515.9,748.4 L1516.9,750.0 L1517.9,751.4 L1518.9,752.7 L1519.9,754.0 L1520.9,755.3 L1521.9,756.7 L1522.9,758.1 L1523.9,759.5 L1524.9,760.9 L1525.9,762.1 L1526.9,763.3 L1527.9,764.5 L1528.9,765.7 L1529.9,767.1 L1530.9,768.7 L1531.9,770.3 L1532.9,772.2 L1533.9,774.3 L1534.9,776.6 L1535.9,779.0 L1536.9,781.3 L1537.9,783.6 L1538.9,786.0 L1539.9,788.6 L1540.9,791.6 L1541.9,794.8 L1542.9,798.0 L1543.9,801.1 L1544.9,804.0 L1545.9,806.8 L1546.9,809.5 L1547.9,812.2 L1548.9,815.1 L1549.9,818.2 L1550.9,821.3 L1551.9,824.6 L1552.9,827.7 L1553.9,830.9 L1554.9,834.1 L1555.9,837.3 L1556.9,840.4 L1557.9,843.3 L1558.9,845.9 L1559.9,848.4 L1560.9,850.9 L1561.9,853.5 L1562.9,856.3 L1563.9,858.9 L1564.9,861.2 L1565.9,863.1 L1566.9,864.9 L1567.9,866.5 L1568.9,868.1 L1569.9,869.9 L1570.9,871.6 L1571.9,873.4 L1572.9,875.0 L1573.9,876.5 L1574.9,877.8 L1575.9,879.0 L1576.9,880.3 L1577.9,881.4 L1578.9,882.5 L1579.9,883.6 L1580.9,884.7 L1581.9,885.7 L1582.9,886.7 L1583.9,887.4 L1584.9,887.8 L1585.9,887.6 L1586.9,887.1 L1587.9,886.3 L1588.9,885.4 L1589.9,884.6 L1590.9,883.9 L1591.9,883.2 L1592.9,882.3 L1593.9,881.0 L1594.9,879.5 L1595.9,877.8 L1596.9,876.2 L1597.9,874.5 L1598.9,872.8 L1599.9,871.0 L1600.9,869.0 L1601.9,867.1 L1602.9,865.2 L1603.9,863.3 L1604.9,861.0 L1605.9,858.4 L1606.9,855.7 L1607.9,853.1 L1608.9,850.8 L1609.9,848.9 L1610.9,847.3 L1611.9,845.8 L1612.9,844.5 L1613.9,843.4 L1614.9,842.5 L1615.9,841.6 L1616.9,840.9 L1617.9,840.3 L1618.9,839.9 L1619.9,839.7 L1620.9,839.7 L1621.9,839.7 L1622.9,839.7 L1623.9,839.9 L1624.9,840.5 L1625.9,841.6 L1626.9,842.9 L1627.9,844.5 L1628.9,846.2 L1629.9,847.9 L1630.9,849.7 L1631.9,851.7 L1632.9,853.7 L1633.9,855.9 L1634.9,857.9 L1635.9,859.8 L1636.9,861.5 L1637.9,863.1 L1638.9,864.7 L1639.9,866.1 L1640.9,867.6 L1641.9,869.0 L1642.9,870.5 L1643.9,872.0 L1644.9,873.4 L1645.9,874.7 L1646.9,875.8 L1647.9,876.7 L1648.9,877.3 L1649.9,877.6 L1650.9,877.7 L1651.9,877.8 L1652.9,878.1 L1653.9,878.5 L1654.9,878.9 L1655.9,879.4 L1656.9,879.8 L1657.9,880.1 L1658.9,880.4 L1659.9,880.7 L1660.9,881.0" fill="none" stroke="#5675ee" stroke-width="7.4" stroke-linejoin="round" stroke-linecap="butt"/>
<!-- annotations -->
<circle cx="1441.4" cy="639.6" r="11" fill="#ffb3c1" stroke="#d90429" stroke-width="4.4"/>
<path d="M1441.4,639.6V579.6" stroke="#d90429" stroke-width="3.7" stroke-dasharray="13,10.5" fill="none"/>
<circle cx="1585.6" cy="887.6" r="11" fill="#90ee90" stroke="#087f5b" stroke-width="4.4"/>
<path d="M1585.6,887.6V912.4" stroke="#087f5b" stroke-width="3.7" stroke-dasharray="13,10.5" fill="none"/>
<text id="t_peak" x="1320.3" y="565.8" font-weight="bold" font-size="26.1" fill="#d90429" textLength="242" lengthAdjust="spacingAndGlyphs">Peak: Mar 2025</text>
<text id="t_trough" x="1458" y="937.1" font-weight="bold" font-size="26.1" fill="#087f5b" textLength="255.2" lengthAdjust="spacingAndGlyphs">Trough: Jul 2025</text>
<!-- axis labels -->
<g class="ax" text-anchor="end" letter-spacing="0.85">
<text id="y1" x="159.85" y="360.8">$1.20</text>
<text id="y2" x="159.85" y="593.3">$0.80</text>
<text id="y3" x="159.85" y="825.9">$0.40</text>
</g>
<g class="ax" text-anchor="middle" letter-spacing="0.85">
<text id="x1" x="518.1" y="1028">2023</text>
<text id="x2" x="942.25" y="1028">2024</text>
<text id="x3" x="1368.0" y="1028">2025</text>
</g>
<text id="t_date" class="tt" x="952.3" y="1064.5" text-anchor="middle" style="font-size:31px" letter-spacing="1.55">Date</text>
<text id="t_price" class="tt" transform="translate(66.4,558.5) rotate(-90)" text-anchor="middle" style="font-size:31.6px" letter-spacing="0.93">Price (USD)</text>
<!-- legend -->
<path d="M208.7,80.4H247" stroke="#4361ee" stroke-width="9" fill="none"/>
<text class="lg" x="267" y="90">Forecast</text>
<path d="M393,80.4H431.2" stroke="#2b2d42" stroke-width="9" fill="none"/>
<text class="lg" x="451" y="90">Historical Price</text>
<rect x="715" y="59" width="44" height="44" fill="#d3e9f1"/>
<text class="lg" x="777" y="90">60% Confidence</text>
<rect x="998" y="59" width="44" height="44" fill="#f8c1c1"/>
<text class="lg" x="1059" y="90">Potential Resistance</text>
</svg>
</body></html>
